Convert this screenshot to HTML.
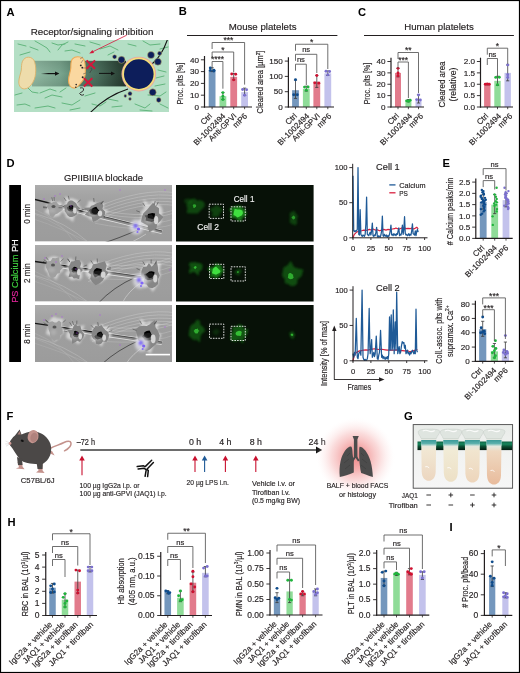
<!DOCTYPE html>
<html><head><meta charset="utf-8"><title>Figure</title>
<style>html,body{margin:0;padding:0;background:#fff;}body{width:520px;height:673px;overflow:hidden;}svg{display:block;will-change:transform;font-family:"Liberation Sans", sans-serif;}</style>
</head><body>
<svg width="520" height="673" viewBox="0 0 520 673" font-family='"Liberation Sans", sans-serif'>
<rect x="0" y="0" width="520" height="673" fill="#fff"/>
<text x="6.40" y="15.60" font-size="11.2" text-anchor="start" fill="#000" font-weight="bold">A</text>
<text x="30.70" y="34.80" font-size="9.7" text-anchor="start" fill="#231f20" textLength="122.8" lengthAdjust="spacingAndGlyphs" stroke="#231f20" stroke-width="0.16">Receptor/signaling inhibition</text>
<defs>
<linearGradient id="vess" x1="0" y1="0" x2="1" y2="0">
 <stop offset="0" stop-color="#93bca5"/>
 <stop offset="0.3" stop-color="#7aa58e"/>
 <stop offset="0.45" stop-color="#5e8a74"/>
 <stop offset="0.7" stop-color="#4a6e5c"/>
 <stop offset="1" stop-color="#24382d"/>
</linearGradient>
<linearGradient id="vessv" x1="0" y1="0" x2="0" y2="1">
 <stop offset="0" stop-color="#000" stop-opacity="0.10"/>
 <stop offset="0.5" stop-color="#000" stop-opacity="0"/>
 <stop offset="1" stop-color="#000" stop-opacity="0.10"/>
</linearGradient>
<radialGradient id="glow" cx="0.5" cy="0.5" r="0.5">
 <stop offset="0" stop-color="#ef7d7d" stop-opacity="0.9"/>
 <stop offset="0.3" stop-color="#f08c8c" stop-opacity="0.72"/>
 <stop offset="0.6" stop-color="#f5aeae" stop-opacity="0.45"/>
 <stop offset="0.85" stop-color="#fbdede" stop-opacity="0.2"/>
 <stop offset="1" stop-color="#ffffff" stop-opacity="0"/>
</radialGradient>
<filter id="b04" x="-20%" y="-20%" width="140%" height="140%"><feGaussianBlur stdDeviation="0.4"/></filter>
<filter id="b08" x="-30%" y="-30%" width="160%" height="160%"><feGaussianBlur stdDeviation="0.8"/></filter>
<filter id="b15" x="-50%" y="-50%" width="200%" height="200%"><feGaussianBlur stdDeviation="1.5"/></filter>
<filter id="b25" x="-80%" y="-80%" width="260%" height="260%"><feGaussianBlur stdDeviation="2.5"/></filter>
<filter id="b4" x="-100%" y="-100%" width="300%" height="300%"><feGaussianBlur stdDeviation="4"/></filter>
<clipPath id="cA"><rect x="14" y="40" width="155" height="72"/></clipPath>
</defs>
<g clip-path="url(#cA)">
<rect x="14" y="40" width="155" height="72" fill="#b4dfc5"/>
<path d="M35,41 L42,45 L47,48 L50,52" fill="none" stroke="#63b67e" stroke-width="1.0" stroke-linecap="round" stroke-linejoin="round"/>
<path d="M52,43 L58,45 L65,44" fill="none" stroke="#63b67e" stroke-width="1.0" stroke-linecap="round" stroke-linejoin="round"/>
<path d="M58,50 L62,45 L68,42" fill="none" stroke="#63b67e" stroke-width="1.0" stroke-linecap="round" stroke-linejoin="round"/>
<path d="M75,44 L85,46" fill="none" stroke="#63b67e" stroke-width="1.0" stroke-linecap="round" stroke-linejoin="round"/>
<path d="M20,55 L30,52" fill="none" stroke="#63b67e" stroke-width="1.0" stroke-linecap="round" stroke-linejoin="round"/>
<path d="M30,47 L38,50" fill="none" stroke="#63b67e" stroke-width="1.0" stroke-linecap="round" stroke-linejoin="round"/>
<path d="M65,51 L72,50 L80,53" fill="none" stroke="#63b67e" stroke-width="1.0" stroke-linecap="round" stroke-linejoin="round"/>
<path d="M90,42 L100,45" fill="none" stroke="#63b67e" stroke-width="1.0" stroke-linecap="round" stroke-linejoin="round"/>
<path d="M100,49 L110,46 L118,50" fill="none" stroke="#63b67e" stroke-width="1.0" stroke-linecap="round" stroke-linejoin="round"/>
<path d="M128,44 L136,46" fill="none" stroke="#63b67e" stroke-width="1.0" stroke-linecap="round" stroke-linejoin="round"/>
<path d="M143,41 L150,45 L160,44" fill="none" stroke="#63b67e" stroke-width="1.0" stroke-linecap="round" stroke-linejoin="round"/>
<path d="M160,49 L168,47" fill="none" stroke="#63b67e" stroke-width="1.0" stroke-linecap="round" stroke-linejoin="round"/>
<path d="M18,44 L26,46" fill="none" stroke="#63b67e" stroke-width="1.0" stroke-linecap="round" stroke-linejoin="round"/>
<path d="M108,55 L114,52" fill="none" stroke="#63b67e" stroke-width="1.0" stroke-linecap="round" stroke-linejoin="round"/>
<path d="M28,88 L32,92 L38,93" fill="none" stroke="#63b67e" stroke-width="1.0" stroke-linecap="round" stroke-linejoin="round"/>
<path d="M40,93 L50,89 L56,91" fill="none" stroke="#63b67e" stroke-width="1.0" stroke-linecap="round" stroke-linejoin="round"/>
<path d="M45,98 L52,95 L62,97" fill="none" stroke="#63b67e" stroke-width="1.0" stroke-linecap="round" stroke-linejoin="round"/>
<path d="M17,105 L25,104 L30,106" fill="none" stroke="#63b67e" stroke-width="1.0" stroke-linecap="round" stroke-linejoin="round"/>
<path d="M35,108 L48,106 L55,108" fill="none" stroke="#63b67e" stroke-width="1.0" stroke-linecap="round" stroke-linejoin="round"/>
<path d="M62,103 L72,105 L80,100" fill="none" stroke="#63b67e" stroke-width="1.0" stroke-linecap="round" stroke-linejoin="round"/>
<path d="M70,110 L80,108" fill="none" stroke="#63b67e" stroke-width="1.0" stroke-linecap="round" stroke-linejoin="round"/>
<path d="M85,96 L95,93" fill="none" stroke="#63b67e" stroke-width="1.0" stroke-linecap="round" stroke-linejoin="round"/>
<path d="M92,104 L100,106 L106,102" fill="none" stroke="#63b67e" stroke-width="1.0" stroke-linecap="round" stroke-linejoin="round"/>
<path d="M108,99 L118,101" fill="none" stroke="#63b67e" stroke-width="1.0" stroke-linecap="round" stroke-linejoin="round"/>
<path d="M112,107 L122,106" fill="none" stroke="#63b67e" stroke-width="1.0" stroke-linecap="round" stroke-linejoin="round"/>
<path d="M135,104 L145,108 L150,104" fill="none" stroke="#63b67e" stroke-width="1.0" stroke-linecap="round" stroke-linejoin="round"/>
<path d="M148,95 L160,96 L166,92" fill="none" stroke="#63b67e" stroke-width="1.0" stroke-linecap="round" stroke-linejoin="round"/>
<path d="M155,86 L165,84" fill="none" stroke="#63b67e" stroke-width="1.0" stroke-linecap="round" stroke-linejoin="round"/>
<path d="M160,104 L168,108" fill="none" stroke="#63b67e" stroke-width="1.0" stroke-linecap="round" stroke-linejoin="round"/>
<path d="M140,110 L152,111" fill="none" stroke="#63b67e" stroke-width="1.0" stroke-linecap="round" stroke-linejoin="round"/>
<path d="M15,95 L22,93" fill="none" stroke="#63b67e" stroke-width="1.0" stroke-linecap="round" stroke-linejoin="round"/>
<path d="M60,92 L66,88" fill="none" stroke="#63b67e" stroke-width="1.0" stroke-linecap="round" stroke-linejoin="round"/>
<path d="M158,70 L166,72" fill="none" stroke="#63b67e" stroke-width="1.0" stroke-linecap="round" stroke-linejoin="round"/>
<path d="M156,78 L164,76" fill="none" stroke="#63b67e" stroke-width="1.0" stroke-linecap="round" stroke-linejoin="round"/>
<rect x="32" y="60.8" width="94" height="25.6" fill="url(#vess)"/>
<rect x="32" y="60.8" width="94" height="25.6" fill="url(#vessv)"/>
<path d="M90,113 Q106,96 128,89" fill="none" stroke="#111" stroke-width="1.1"/>
<path d="M152,64 Q162,56 168,38" fill="none" stroke="#111" stroke-width="1.1"/>
<path d="M28.3,57.2 C31.5,57.2 34,59 34.8,62.5 C35.8,66 36,70 35.6,73.5 C35.2,78 33.5,82 31.2,84.8 C29.5,87 27,88.9 24.4,88.9 C21,88.9 18.8,86 18.8,82 C18.8,78 20.6,74 21.3,70 C21.6,67 21.3,64 22.5,61.2 C23.8,58.6 26,57.2 28.3,57.2 Z" fill="#eedcab" stroke="#ddb26a" stroke-width="0.9"/>
<path d="M77.7,56.8 C81.5,56.8 84.6,59 84.9,63 C85.4,67 85.6,71 85.2,74.5 C84.7,78.5 82.5,81.5 80,84 C78,86.5 76.5,88.2 74.2,88.1 C71,88 68.6,85 68.5,80.5 C68.4,76 70.5,72 70.8,68 C71,64 70.5,61 72.5,58.8 C74,57.3 75.8,56.8 77.7,56.8 Z" fill="#fad8a0" stroke="#eeaa55" stroke-width="1.1"/>
<circle cx="80.8" cy="65.4" r="0.9" fill="#222"/>
<circle cx="82.3" cy="67.7" r="0.9" fill="#222"/>
<circle cx="82.7" cy="77.3" r="1.0" fill="#222"/>
<circle cx="76.2" cy="84.6" r="0.8" fill="#222"/>
<circle cx="75.8" cy="87.3" r="0.8" fill="#222"/>
<path d="M81,63 l2,-3 M80,59 l3,-2 M83,74 l3,-1 M83,68 l3,0" stroke="#555" stroke-width="0.5"/>
<path d="M80,88 q4,-1 3.5,2 q-0.5,2 -3,2.5 q-2,1 0.5,2.5 q2,0.5 3,-0.5" fill="none" stroke="#333" stroke-width="1"/>
<path d="M91,68 q1.5,1.5 0,3 q-1.5,1 -1,2" fill="none" stroke="#444" stroke-width="0.8"/>
<defs><linearGradient id="arw" x1="0" y1="0" x2="1" y2="0"><stop offset="0" stop-color="#111" stop-opacity="0"/><stop offset="0.5" stop-color="#111"/></linearGradient></defs>
<rect x="40.8" y="73.0" width="15" height="1.2" fill="url(#arw)"/><path d="M55,71.4 L59.4,73.6 L55,75.8 Z" fill="#111"/>
<path d="M99,73.4 H112" stroke="#111" stroke-width="1"/><path d="M111,71.4 L115,73.4 L111,75.4 Z" fill="#111"/>
<path d="M86.6,60.39999999999999 L95.0,68.8 M95.0,60.39999999999999 L86.6,68.8" stroke="#d3173b" stroke-width="2.0"/>
<path d="M83.89999999999999,78.1 L92.3,86.5 M92.3,78.1 L83.89999999999999,86.5" stroke="#d3173b" stroke-width="2.0"/>
<circle cx="138.8" cy="74.1" r="17.3" fill="#e7a2a6"/>
<circle cx="138.8" cy="74.1" r="16.5" fill="#f4df78"/>
<circle cx="138.8" cy="74.1" r="14.8" fill="#0d1e5b"/>
<circle cx="114.6" cy="56.8" r="2.1" fill="#0d1e5b" stroke="#c9b66a" stroke-width="0.5"/>
<circle cx="121.5" cy="59.8" r="3.5" fill="#0d1e5b" stroke="#c9b66a" stroke-width="0.5"/>
<circle cx="151" cy="55" r="3.5" fill="#0d1e5b" stroke="#c9b66a" stroke-width="0.5"/>
<circle cx="159.6" cy="53.4" r="2.1" fill="#0d1e5b" stroke="#c9b66a" stroke-width="0.5"/>
<circle cx="157.9" cy="61.7" r="3.5" fill="#0d1e5b" stroke="#c9b66a" stroke-width="0.5"/>
<circle cx="152.7" cy="92.3" r="3.5" fill="#0d1e5b" stroke="#c9b66a" stroke-width="0.5"/>
<circle cx="158.7" cy="100" r="2.4" fill="#0d1e5b" stroke="#c9b66a" stroke-width="0.5"/>
<circle cx="130" cy="93.7" r="2.1" fill="#0d1e5b" stroke="#c9b66a" stroke-width="0.5"/>
<circle cx="125.3" cy="96" r="1.4" fill="#0d1e5b" stroke="#c9b66a" stroke-width="0.5"/>
<circle cx="130" cy="99" r="1.4" fill="#0d1e5b" stroke="#c9b66a" stroke-width="0.5"/>
</g>
<path d="M126.7,35.2 L91,52.6" stroke="#d3173b" stroke-width="0.8"/><path d="M89.2,53.6 L92.5,49.9 L94,53 Z" fill="#d3173b"/>
<text x="178.70" y="15.30" font-size="11.2" text-anchor="start" fill="#000" font-weight="bold">B</text>
<text x="228.70" y="30.40" font-size="9.6" text-anchor="start" fill="#231f20" textLength="67.8" lengthAdjust="spacingAndGlyphs" stroke="#231f20" stroke-width="0.16">Mouse platelets</text>
<line x1="187.00" y1="35.50" x2="337.40" y2="35.50" stroke="#231f20" stroke-width="1.0"/>
<rect x="208.70" y="69.83" width="6.8" height="37.17" fill="#7497bd"/>
<rect x="219.50" y="96.20" width="6.8" height="10.80" fill="#8fdc98"/>
<rect x="230.30" y="76.79" width="6.8" height="30.21" fill="#e27b8c"/>
<rect x="241.20" y="92.13" width="6.8" height="14.87" fill="#c3c2ec"/>
<line x1="212.10" y1="71.60" x2="212.10" y2="67.71" stroke="#3a3a3a" stroke-width="0.8"/>
<line x1="210.50" y1="67.71" x2="213.70" y2="67.71" stroke="#3a3a3a" stroke-width="0.8"/>
<line x1="210.50" y1="71.60" x2="213.70" y2="71.60" stroke="#3a3a3a" stroke-width="0.8"/>
<circle cx="210.30" cy="68.06" r="1.45" fill="#0f4c8c"/>
<circle cx="213.90" cy="70.18" r="1.45" fill="#0f4c8c"/>
<circle cx="210.30" cy="70.42" r="1.45" fill="#0f4c8c"/>
<circle cx="213.90" cy="71.01" r="1.45" fill="#0f4c8c"/>
<line x1="222.90" y1="99.57" x2="222.90" y2="92.60" stroke="#3a3a3a" stroke-width="0.8"/>
<line x1="221.30" y1="92.60" x2="224.50" y2="92.60" stroke="#3a3a3a" stroke-width="0.8"/>
<line x1="221.30" y1="99.57" x2="224.50" y2="99.57" stroke="#3a3a3a" stroke-width="0.8"/>
<circle cx="222.90" cy="92.60" r="1.45" fill="#1fb43c"/>
<circle cx="222.90" cy="96.14" r="1.45" fill="#1fb43c"/>
<circle cx="222.90" cy="99.57" r="1.45" fill="#1fb43c"/>
<line x1="233.70" y1="79.86" x2="233.70" y2="73.49" stroke="#3a3a3a" stroke-width="0.8"/>
<line x1="232.10" y1="73.49" x2="235.30" y2="73.49" stroke="#3a3a3a" stroke-width="0.8"/>
<line x1="232.10" y1="79.86" x2="235.30" y2="79.86" stroke="#3a3a3a" stroke-width="0.8"/>
<circle cx="231.70" cy="73.96" r="1.45" fill="#cf1030"/>
<circle cx="235.70" cy="74.20" r="1.45" fill="#cf1030"/>
<circle cx="233.70" cy="79.86" r="1.45" fill="#cf1030"/>
<line x1="244.60" y1="95.44" x2="244.60" y2="88.12" stroke="#3a3a3a" stroke-width="0.8"/>
<line x1="243.00" y1="88.12" x2="246.20" y2="88.12" stroke="#3a3a3a" stroke-width="0.8"/>
<line x1="243.00" y1="95.44" x2="246.20" y2="95.44" stroke="#3a3a3a" stroke-width="0.8"/>
<circle cx="242.60" cy="89.54" r="1.45" fill="#7b70cf"/>
<circle cx="246.60" cy="89.77" r="1.45" fill="#7b70cf"/>
<circle cx="244.60" cy="95.20" r="1.45" fill="#7b70cf"/>
<line x1="204.50" y1="56.00" x2="204.50" y2="107.60" stroke="#231f20" stroke-width="1.2"/>
<line x1="203.90" y1="107.00" x2="252.00" y2="107.00" stroke="#231f20" stroke-width="1.2"/>
<line x1="200.90" y1="107.00" x2="204.50" y2="107.00" stroke="#231f20" stroke-width="0.9"/>
<text x="198.90" y="109.70" font-size="8.1" text-anchor="end" fill="#231f20" stroke="#231f20" stroke-width="0.16">0</text>
<line x1="200.90" y1="95.20" x2="204.50" y2="95.20" stroke="#231f20" stroke-width="0.9"/>
<text x="198.90" y="97.90" font-size="8.1" text-anchor="end" fill="#231f20" stroke="#231f20" stroke-width="0.16">10</text>
<line x1="200.90" y1="83.40" x2="204.50" y2="83.40" stroke="#231f20" stroke-width="0.9"/>
<text x="198.90" y="86.10" font-size="8.1" text-anchor="end" fill="#231f20" stroke="#231f20" stroke-width="0.16">20</text>
<line x1="200.90" y1="71.60" x2="204.50" y2="71.60" stroke="#231f20" stroke-width="0.9"/>
<text x="198.90" y="74.30" font-size="8.1" text-anchor="end" fill="#231f20" stroke="#231f20" stroke-width="0.16">30</text>
<line x1="200.90" y1="59.80" x2="204.50" y2="59.80" stroke="#231f20" stroke-width="0.9"/>
<text x="198.90" y="62.50" font-size="8.1" text-anchor="end" fill="#231f20" stroke="#231f20" stroke-width="0.16">40</text>
<line x1="212.10" y1="107.00" x2="212.10" y2="109.20" stroke="#231f20" stroke-width="0.8"/>
<line x1="222.90" y1="107.00" x2="222.90" y2="109.20" stroke="#231f20" stroke-width="0.8"/>
<line x1="233.70" y1="107.00" x2="233.70" y2="109.20" stroke="#231f20" stroke-width="0.8"/>
<line x1="244.60" y1="107.00" x2="244.60" y2="109.20" stroke="#231f20" stroke-width="0.8"/>
<path d="M212.10,68.00 V61.50 H222.90 V88.70" fill="none" stroke="#555" stroke-width="0.85"/>
<text x="217.50" y="62.40" font-size="8.5" text-anchor="middle" fill="#231f20" stroke="#231f20" stroke-width="0.16">****</text>
<path d="M212.10,58.50 V52.00 H233.70 V72.50" fill="none" stroke="#555" stroke-width="0.85"/>
<text x="222.90" y="52.90" font-size="8.5" text-anchor="middle" fill="#231f20" stroke="#231f20" stroke-width="0.16">*</text>
<path d="M212.10,49.00 V42.50 H244.60 V84.60" fill="none" stroke="#555" stroke-width="0.85"/>
<text x="228.35" y="43.40" font-size="8.5" text-anchor="middle" fill="#231f20" stroke="#231f20" stroke-width="0.16">***</text>
<text transform="translate(212.60,116.50) rotate(-45)" x="0" y="0" font-size="8.0" text-anchor="end" fill="#231f20" stroke="#231f20" stroke-width="0.16">Ctrl</text>
<text transform="translate(226.00,116.50) rotate(-45)" x="0" y="0" font-size="8.0" text-anchor="end" fill="#231f20" stroke="#231f20" stroke-width="0.16">BI-1002494</text>
<text transform="translate(237.00,116.50) rotate(-45)" x="0" y="0" font-size="8.0" text-anchor="end" fill="#231f20" stroke="#231f20" stroke-width="0.16">Anti-GPVI</text>
<text transform="translate(247.70,116.50) rotate(-45)" x="0" y="0" font-size="8.0" text-anchor="end" fill="#231f20" stroke="#231f20" stroke-width="0.16">mP6</text>
<text transform="translate(183.20,83.60) rotate(-90)" x="0" y="0" font-size="9.4" text-anchor="middle" fill="#231f20" textLength="41.5" lengthAdjust="spacingAndGlyphs" stroke="#231f20" stroke-width="0.16">Proc. plts [%]</text>
<rect x="292.10" y="90.20" width="6.8" height="16.80" fill="#7497bd"/>
<rect x="302.90" y="88.79" width="6.8" height="18.21" fill="#8fdc98"/>
<rect x="313.40" y="81.60" width="6.8" height="25.40" fill="#e27b8c"/>
<rect x="324.40" y="73.34" width="6.8" height="33.66" fill="#c3c2ec"/>
<line x1="295.50" y1="98.43" x2="295.50" y2="80.07" stroke="#3a3a3a" stroke-width="0.8"/>
<line x1="293.90" y1="80.07" x2="297.10" y2="80.07" stroke="#3a3a3a" stroke-width="0.8"/>
<line x1="293.90" y1="98.43" x2="297.10" y2="98.43" stroke="#3a3a3a" stroke-width="0.8"/>
<circle cx="295.50" cy="79.77" r="1.45" fill="#0f4c8c"/>
<circle cx="293.70" cy="94.76" r="1.45" fill="#0f4c8c"/>
<circle cx="297.30" cy="94.76" r="1.45" fill="#0f4c8c"/>
<line x1="306.30" y1="91.09" x2="306.30" y2="86.19" stroke="#3a3a3a" stroke-width="0.8"/>
<line x1="304.70" y1="86.19" x2="307.90" y2="86.19" stroke="#3a3a3a" stroke-width="0.8"/>
<line x1="304.70" y1="91.09" x2="307.90" y2="91.09" stroke="#3a3a3a" stroke-width="0.8"/>
<circle cx="304.50" cy="87.11" r="1.45" fill="#1fb43c"/>
<circle cx="308.10" cy="86.96" r="1.45" fill="#1fb43c"/>
<circle cx="306.30" cy="90.17" r="1.45" fill="#1fb43c"/>
<line x1="316.80" y1="87.42" x2="316.80" y2="75.48" stroke="#3a3a3a" stroke-width="0.8"/>
<line x1="315.20" y1="75.48" x2="318.40" y2="75.48" stroke="#3a3a3a" stroke-width="0.8"/>
<line x1="315.20" y1="87.42" x2="318.40" y2="87.42" stroke="#3a3a3a" stroke-width="0.8"/>
<circle cx="316.80" cy="75.48" r="1.45" fill="#cf1030"/>
<circle cx="314.80" cy="82.83" r="1.45" fill="#cf1030"/>
<circle cx="318.80" cy="83.13" r="1.45" fill="#cf1030"/>
<line x1="327.80" y1="75.48" x2="327.80" y2="70.89" stroke="#3a3a3a" stroke-width="0.8"/>
<line x1="326.20" y1="70.89" x2="329.40" y2="70.89" stroke="#3a3a3a" stroke-width="0.8"/>
<line x1="326.20" y1="75.48" x2="329.40" y2="75.48" stroke="#3a3a3a" stroke-width="0.8"/>
<circle cx="326.00" cy="71.20" r="1.45" fill="#7b70cf"/>
<circle cx="329.60" cy="71.50" r="1.45" fill="#7b70cf"/>
<circle cx="327.80" cy="74.87" r="1.45" fill="#7b70cf"/>
<line x1="288.40" y1="57.30" x2="288.40" y2="107.60" stroke="#231f20" stroke-width="1.2"/>
<line x1="287.80" y1="107.00" x2="334.00" y2="107.00" stroke="#231f20" stroke-width="1.2"/>
<line x1="284.80" y1="107.00" x2="288.40" y2="107.00" stroke="#231f20" stroke-width="0.9"/>
<text x="282.80" y="109.70" font-size="8.1" text-anchor="end" fill="#231f20" stroke="#231f20" stroke-width="0.16">0</text>
<line x1="284.80" y1="91.70" x2="288.40" y2="91.70" stroke="#231f20" stroke-width="0.9"/>
<text x="282.80" y="94.40" font-size="8.1" text-anchor="end" fill="#231f20" stroke="#231f20" stroke-width="0.16">50</text>
<line x1="284.80" y1="76.40" x2="288.40" y2="76.40" stroke="#231f20" stroke-width="0.9"/>
<text x="282.80" y="79.10" font-size="8.1" text-anchor="end" fill="#231f20" stroke="#231f20" stroke-width="0.16">100</text>
<line x1="284.80" y1="61.10" x2="288.40" y2="61.10" stroke="#231f20" stroke-width="0.9"/>
<text x="282.80" y="63.80" font-size="8.1" text-anchor="end" fill="#231f20" stroke="#231f20" stroke-width="0.16">150</text>
<line x1="295.50" y1="107.00" x2="295.50" y2="109.20" stroke="#231f20" stroke-width="0.8"/>
<line x1="306.30" y1="107.00" x2="306.30" y2="109.20" stroke="#231f20" stroke-width="0.8"/>
<line x1="316.80" y1="107.00" x2="316.80" y2="109.20" stroke="#231f20" stroke-width="0.8"/>
<line x1="327.80" y1="107.00" x2="327.80" y2="109.20" stroke="#231f20" stroke-width="0.8"/>
<path d="M295.50,70.70 V64.20 H306.30 V85.00" fill="none" stroke="#555" stroke-width="0.85"/>
<text x="300.90" y="62.20" font-size="7.6" text-anchor="middle" fill="#231f20" stroke="#231f20" stroke-width="0.16">ns</text>
<path d="M295.50,60.80 V54.30 H316.80 V73.00" fill="none" stroke="#555" stroke-width="0.85"/>
<text x="306.15" y="52.30" font-size="7.6" text-anchor="middle" fill="#231f20" stroke="#231f20" stroke-width="0.16">ns</text>
<path d="M295.50,50.75 V44.25 H327.80 V69.00" fill="none" stroke="#555" stroke-width="0.85"/>
<text x="311.65" y="45.15" font-size="8.5" text-anchor="middle" fill="#231f20" stroke="#231f20" stroke-width="0.16">*</text>
<text transform="translate(297.40,116.50) rotate(-45)" x="0" y="0" font-size="8.0" text-anchor="end" fill="#231f20" stroke="#231f20" stroke-width="0.16">Ctrl</text>
<text transform="translate(309.90,116.50) rotate(-45)" x="0" y="0" font-size="8.0" text-anchor="end" fill="#231f20" stroke="#231f20" stroke-width="0.16">BI-1002494</text>
<text transform="translate(320.50,116.50) rotate(-45)" x="0" y="0" font-size="8.0" text-anchor="end" fill="#231f20" stroke="#231f20" stroke-width="0.16">Anti-GPVI</text>
<text transform="translate(332.00,116.50) rotate(-45)" x="0" y="0" font-size="8.0" text-anchor="end" fill="#231f20" stroke="#231f20" stroke-width="0.16">mP6</text>
<text transform="translate(263.40,82.00) rotate(-90) scale(0.7993,1)" x="0" y="0" font-size="9.4" text-anchor="middle" fill="#231f20" stroke="#231f20" stroke-width="0.16">Cleared area [µm<tspan font-size="6.11" dy="-3.57">2</tspan><tspan dy="3.57">]</tspan></text>
<text x="358.00" y="15.60" font-size="11.2" text-anchor="start" fill="#000" font-weight="bold">C</text>
<text x="404.20" y="30.40" font-size="9.6" text-anchor="start" fill="#231f20" textLength="69.5" lengthAdjust="spacingAndGlyphs" stroke="#231f20" stroke-width="0.16">Human platelets</text>
<line x1="364.00" y1="35.50" x2="513.90" y2="35.50" stroke="#231f20" stroke-width="1.0"/>
<rect x="395.00" y="72.88" width="6.0" height="34.12" fill="#e27b8c"/>
<rect x="405.40" y="100.63" width="6.0" height="6.37" fill="#8fdc98"/>
<rect x="415.50" y="98.92" width="6.0" height="8.08" fill="#c3c2ec"/>
<line x1="398.00" y1="76.86" x2="398.00" y2="68.33" stroke="#3a3a3a" stroke-width="0.8"/>
<line x1="396.40" y1="68.33" x2="399.60" y2="68.33" stroke="#3a3a3a" stroke-width="0.8"/>
<line x1="396.40" y1="76.86" x2="399.60" y2="76.86" stroke="#3a3a3a" stroke-width="0.8"/>
<circle cx="398.00" cy="68.33" r="1.45" fill="#cf1030"/>
<circle cx="398.00" cy="72.88" r="1.45" fill="#cf1030"/>
<circle cx="398.00" cy="75.72" r="1.45" fill="#cf1030"/>
<line x1="408.40" y1="101.88" x2="408.40" y2="99.49" stroke="#3a3a3a" stroke-width="0.8"/>
<line x1="406.80" y1="99.49" x2="410.00" y2="99.49" stroke="#3a3a3a" stroke-width="0.8"/>
<line x1="406.80" y1="101.88" x2="410.00" y2="101.88" stroke="#3a3a3a" stroke-width="0.8"/>
<circle cx="406.60" cy="100.86" r="1.45" fill="#1fb43c"/>
<circle cx="410.20" cy="100.29" r="1.45" fill="#1fb43c"/>
<circle cx="408.40" cy="101.31" r="1.45" fill="#1fb43c"/>
<line x1="418.50" y1="103.02" x2="418.50" y2="94.72" stroke="#3a3a3a" stroke-width="0.8"/>
<line x1="416.90" y1="94.72" x2="420.10" y2="94.72" stroke="#3a3a3a" stroke-width="0.8"/>
<line x1="416.90" y1="103.02" x2="420.10" y2="103.02" stroke="#3a3a3a" stroke-width="0.8"/>
<circle cx="418.50" cy="95.06" r="1.45" fill="#7b70cf"/>
<circle cx="416.70" cy="99.61" r="1.45" fill="#7b70cf"/>
<circle cx="420.30" cy="99.95" r="1.45" fill="#7b70cf"/>
<line x1="391.00" y1="57.70" x2="391.00" y2="107.60" stroke="#231f20" stroke-width="1.2"/>
<line x1="390.40" y1="107.00" x2="424.00" y2="107.00" stroke="#231f20" stroke-width="1.2"/>
<line x1="387.40" y1="107.00" x2="391.00" y2="107.00" stroke="#231f20" stroke-width="0.9"/>
<text x="385.40" y="109.70" font-size="8.1" text-anchor="end" fill="#231f20" stroke="#231f20" stroke-width="0.16">0</text>
<line x1="387.40" y1="95.62" x2="391.00" y2="95.62" stroke="#231f20" stroke-width="0.9"/>
<text x="385.40" y="98.33" font-size="8.1" text-anchor="end" fill="#231f20" stroke="#231f20" stroke-width="0.16">10</text>
<line x1="387.40" y1="84.25" x2="391.00" y2="84.25" stroke="#231f20" stroke-width="0.9"/>
<text x="385.40" y="86.95" font-size="8.1" text-anchor="end" fill="#231f20" stroke="#231f20" stroke-width="0.16">20</text>
<line x1="387.40" y1="72.88" x2="391.00" y2="72.88" stroke="#231f20" stroke-width="0.9"/>
<text x="385.40" y="75.58" font-size="8.1" text-anchor="end" fill="#231f20" stroke="#231f20" stroke-width="0.16">30</text>
<line x1="387.40" y1="61.50" x2="391.00" y2="61.50" stroke="#231f20" stroke-width="0.9"/>
<text x="385.40" y="64.20" font-size="8.1" text-anchor="end" fill="#231f20" stroke="#231f20" stroke-width="0.16">40</text>
<line x1="398.00" y1="107.00" x2="398.00" y2="109.20" stroke="#231f20" stroke-width="0.8"/>
<line x1="408.40" y1="107.00" x2="408.40" y2="109.20" stroke="#231f20" stroke-width="0.8"/>
<line x1="418.50" y1="107.00" x2="418.50" y2="109.20" stroke="#231f20" stroke-width="0.8"/>
<path d="M398.00,68.50 V62.00 H408.40 V98.00" fill="none" stroke="#555" stroke-width="0.85"/>
<text x="403.20" y="62.90" font-size="8.5" text-anchor="middle" fill="#231f20" stroke="#231f20" stroke-width="0.16">***</text>
<path d="M398.00,59.00 V52.50 H418.50 V93.00" fill="none" stroke="#555" stroke-width="0.85"/>
<text x="408.25" y="53.40" font-size="8.5" text-anchor="middle" fill="#231f20" stroke="#231f20" stroke-width="0.16">**</text>
<text transform="translate(399.50,116.50) rotate(-45)" x="0" y="0" font-size="8.0" text-anchor="end" fill="#231f20" stroke="#231f20" stroke-width="0.16">Ctrl</text>
<text transform="translate(412.60,116.50) rotate(-45)" x="0" y="0" font-size="8.0" text-anchor="end" fill="#231f20" stroke="#231f20" stroke-width="0.16">BI-1002494</text>
<text transform="translate(423.70,116.50) rotate(-45)" x="0" y="0" font-size="8.0" text-anchor="end" fill="#231f20" stroke="#231f20" stroke-width="0.16">mP6</text>
<text transform="translate(369.60,83.60) rotate(-90)" x="0" y="0" font-size="9.4" text-anchor="middle" fill="#231f20" textLength="41.5" lengthAdjust="spacingAndGlyphs" stroke="#231f20" stroke-width="0.16">Proc. plts [%]</text>
<rect x="484.10" y="84.25" width="6.4" height="22.75" fill="#e27b8c"/>
<rect x="494.30" y="80.84" width="6.4" height="26.16" fill="#8fdc98"/>
<rect x="504.50" y="72.88" width="6.4" height="34.12" fill="#c3c2ec"/>
<line x1="487.30" y1="84.93" x2="487.30" y2="83.57" stroke="#3a3a3a" stroke-width="0.8"/>
<line x1="485.70" y1="83.57" x2="488.90" y2="83.57" stroke="#3a3a3a" stroke-width="0.8"/>
<line x1="485.70" y1="84.93" x2="488.90" y2="84.93" stroke="#3a3a3a" stroke-width="0.8"/>
<circle cx="485.30" cy="84.25" r="1.45" fill="#cf1030"/>
<circle cx="487.30" cy="84.02" r="1.45" fill="#cf1030"/>
<circle cx="489.30" cy="84.25" r="1.45" fill="#cf1030"/>
<line x1="497.50" y1="85.39" x2="497.50" y2="76.29" stroke="#3a3a3a" stroke-width="0.8"/>
<line x1="495.90" y1="76.29" x2="499.10" y2="76.29" stroke="#3a3a3a" stroke-width="0.8"/>
<line x1="495.90" y1="85.39" x2="499.10" y2="85.39" stroke="#3a3a3a" stroke-width="0.8"/>
<circle cx="495.70" cy="77.42" r="1.45" fill="#1fb43c"/>
<circle cx="499.30" cy="77.20" r="1.45" fill="#1fb43c"/>
<circle cx="497.50" cy="84.70" r="1.45" fill="#1fb43c"/>
<line x1="507.70" y1="80.84" x2="507.70" y2="64.91" stroke="#3a3a3a" stroke-width="0.8"/>
<line x1="506.10" y1="64.91" x2="509.30" y2="64.91" stroke="#3a3a3a" stroke-width="0.8"/>
<line x1="506.10" y1="80.84" x2="509.30" y2="80.84" stroke="#3a3a3a" stroke-width="0.8"/>
<circle cx="507.70" cy="64.91" r="1.45" fill="#7b70cf"/>
<circle cx="507.70" cy="74.69" r="1.45" fill="#7b70cf"/>
<circle cx="507.70" cy="77.42" r="1.45" fill="#7b70cf"/>
<line x1="480.50" y1="57.70" x2="480.50" y2="107.60" stroke="#231f20" stroke-width="1.2"/>
<line x1="479.90" y1="107.00" x2="513.00" y2="107.00" stroke="#231f20" stroke-width="1.2"/>
<line x1="476.90" y1="107.00" x2="480.50" y2="107.00" stroke="#231f20" stroke-width="0.9"/>
<text x="474.90" y="109.70" font-size="8.1" text-anchor="end" fill="#231f20" stroke="#231f20" stroke-width="0.16">0.0</text>
<line x1="476.90" y1="95.62" x2="480.50" y2="95.62" stroke="#231f20" stroke-width="0.9"/>
<text x="474.90" y="98.33" font-size="8.1" text-anchor="end" fill="#231f20" stroke="#231f20" stroke-width="0.16">0.5</text>
<line x1="476.90" y1="84.25" x2="480.50" y2="84.25" stroke="#231f20" stroke-width="0.9"/>
<text x="474.90" y="86.95" font-size="8.1" text-anchor="end" fill="#231f20" stroke="#231f20" stroke-width="0.16">1.0</text>
<line x1="476.90" y1="72.88" x2="480.50" y2="72.88" stroke="#231f20" stroke-width="0.9"/>
<text x="474.90" y="75.58" font-size="8.1" text-anchor="end" fill="#231f20" stroke="#231f20" stroke-width="0.16">1.5</text>
<line x1="476.90" y1="61.50" x2="480.50" y2="61.50" stroke="#231f20" stroke-width="0.9"/>
<text x="474.90" y="64.20" font-size="8.1" text-anchor="end" fill="#231f20" stroke="#231f20" stroke-width="0.16">2.0</text>
<line x1="487.30" y1="107.00" x2="487.30" y2="109.20" stroke="#231f20" stroke-width="0.8"/>
<line x1="497.50" y1="107.00" x2="497.50" y2="109.20" stroke="#231f20" stroke-width="0.8"/>
<line x1="507.70" y1="107.00" x2="507.70" y2="109.20" stroke="#231f20" stroke-width="0.8"/>
<path d="M487.30,65.00 V58.50 H497.50 V77.00" fill="none" stroke="#555" stroke-width="0.85"/>
<text x="492.40" y="56.50" font-size="7.6" text-anchor="middle" fill="#231f20" stroke="#231f20" stroke-width="0.16">ns</text>
<path d="M487.30,54.70 V48.20 H507.70 V64.00" fill="none" stroke="#555" stroke-width="0.85"/>
<text x="497.50" y="49.10" font-size="8.5" text-anchor="middle" fill="#231f20" stroke="#231f20" stroke-width="0.16">*</text>
<text transform="translate(488.80,116.50) rotate(-45)" x="0" y="0" font-size="8.0" text-anchor="end" fill="#231f20" stroke="#231f20" stroke-width="0.16">Ctrl</text>
<text transform="translate(501.60,116.50) rotate(-45)" x="0" y="0" font-size="8.0" text-anchor="end" fill="#231f20" stroke="#231f20" stroke-width="0.16">BI-1002494</text>
<text transform="translate(512.90,116.50) rotate(-45)" x="0" y="0" font-size="8.0" text-anchor="end" fill="#231f20" stroke="#231f20" stroke-width="0.16">mP6</text>
<text transform="translate(444.60,84.50) rotate(-90)" x="0" y="0" font-size="9.4" text-anchor="middle" fill="#231f20" textLength="46" lengthAdjust="spacingAndGlyphs" stroke="#231f20" stroke-width="0.16">Cleared area</text>
<text transform="translate(455.70,84.50) rotate(-90)" x="0" y="0" font-size="9.4" text-anchor="middle" fill="#231f20" textLength="34" lengthAdjust="spacingAndGlyphs" stroke="#231f20" stroke-width="0.16">(relative)</text>
<text x="6.60" y="166.90" font-size="11.2" text-anchor="start" fill="#000" font-weight="bold">D</text>
<text x="64.00" y="180.50" font-size="9.4" text-anchor="start" fill="#231f20" textLength="79" lengthAdjust="spacingAndGlyphs" stroke="#231f20" stroke-width="0.16">GPIIBIIIA blockade</text>
<rect x="9.2" y="185" width="11.8" height="177" fill="#000"/>
<text transform="translate(18.3,302.8) rotate(-90)" x="0" y="0" font-size="9.4" fill="#fff" textLength="63.5" lengthAdjust="spacingAndGlyphs"><tspan fill="#e0259a" stroke="#e0259a" stroke-width="0.2">PS</tspan> <tspan fill="#3fcf3f" stroke="#3fcf3f" stroke-width="0.2">Calcium</tspan> <tspan fill="#ffffff" stroke="#ffffff" stroke-width="0.2">PH</tspan></text>
<text transform="translate(30.20,213.80) rotate(-90)" x="0" y="0" font-size="9.0" text-anchor="middle" fill="#231f20" textLength="19.7" lengthAdjust="spacingAndGlyphs" stroke="#231f20" stroke-width="0.16">0 min</text>
<text transform="translate(30.20,273.20) rotate(-90)" x="0" y="0" font-size="9.0" text-anchor="middle" fill="#231f20" textLength="19.7" lengthAdjust="spacingAndGlyphs" stroke="#231f20" stroke-width="0.16">2 min</text>
<text transform="translate(30.20,333.80) rotate(-90)" x="0" y="0" font-size="9.0" text-anchor="middle" fill="#231f20" textLength="19.7" lengthAdjust="spacingAndGlyphs" stroke="#231f20" stroke-width="0.16">8 min</text>
<defs><linearGradient id="phg" x1="0" y1="0" x2="0" y2="1">
<stop offset="0" stop-color="#bdbdbd" stop-opacity="0.5"/><stop offset="0.5" stop-color="#a4a4a4" stop-opacity="0"/><stop offset="1" stop-color="#999" stop-opacity="0.4"/></linearGradient>
<radialGradient id="gb" cx="0.5" cy="0.5" r="0.5"><stop offset="0" stop-color="#5dff5d"/><stop offset="0.35" stop-color="#2bd12b"/><stop offset="1" stop-color="#0a6a0a" stop-opacity="0"/></radialGradient>
<radialGradient id="gd" cx="0.5" cy="0.5" r="0.5"><stop offset="0" stop-color="#22a022"/><stop offset="0.5" stop-color="#137a13" stop-opacity="0.7"/><stop offset="1" stop-color="#0a4a0a" stop-opacity="0"/></radialGradient>
</defs>
<clipPath id="cp185"><rect x="35" y="185" width="137" height="56.5"/></clipPath>
<g clip-path="url(#cp185)">
<rect x="35" y="185" width="137" height="56.5" fill="#9d9d9d"/>
<rect x="35" y="185" width="137" height="56.5" fill="url(#phg)"/>
<path d="M95,209.25 Q152,221 182,207" fill="none" stroke="#dcdcdc" stroke-width="0.6" opacity="0.55"/>
<path d="M95,212.25 Q152,224 182,210" fill="none" stroke="#dcdcdc" stroke-width="0.6" opacity="0.5"/>
<path d="M95,218.25 Q152,230 182,216" fill="none" stroke="#dcdcdc" stroke-width="0.6" opacity="0.45"/>
<path d="M95,223.25 Q152,235 182,221" fill="none" stroke="#dcdcdc" stroke-width="0.6" opacity="0.4"/>
<path d="M140,229 Q117,239 102,243.5" fill="none" stroke="#2a2a2a" stroke-width="0.9" opacity="0.75"/>
<path d="M146,234 Q132,243 126,243.5" fill="none" stroke="#e6e6e6" stroke-width="0.8" opacity="0.6"/>
<path d="M35,213.5 Q65,221.5 90,243.5" fill="none" stroke="#dadada" stroke-width="0.6" opacity="0.5"/>
<line x1="55" y1="205.46062992125985" x2="162" y2="232" stroke="#ececec" stroke-width="4.2" opacity="0.85" filter="url(#b04)"/>
<line x1="55" y1="205.46062992125985" x2="162" y2="232" stroke="#8a8a8a" stroke-width="2.4"/>
<line x1="35" y1="199.5" x2="104.85000000000001" y2="216.825" stroke="#161616" stroke-width="1.4"/>
<line x1="104.85000000000001" y1="216.825" x2="162" y2="231" stroke="#303030" stroke-width="0.9" opacity="0.8"/>
<path d="M92,209.0 Q142,187.0 177,193.0" fill="none" stroke="#e0e0e0" stroke-width="0.55" opacity="0.55"/>
<path d="M92,212.2 Q142,190.2 177,196.2" fill="none" stroke="#e0e0e0" stroke-width="0.55" opacity="0.55"/>
<path d="M92,215.4 Q142,193.4 177,199.4" fill="none" stroke="#e0e0e0" stroke-width="0.55" opacity="0.55"/>
<path d="M92,218.6 Q142,196.6 177,202.6" fill="none" stroke="#e0e0e0" stroke-width="0.55" opacity="0.55"/>
<path d="M92,221.8 Q142,199.8 177,205.8" fill="none" stroke="#e0e0e0" stroke-width="0.55" opacity="0.55"/>
<path d="M35,209.5 Q60,219.5 75,243.5" fill="none" stroke="#d4d4d4" stroke-width="0.5" opacity="0.35"/>
<path d="M35,214.5 Q60,223.5 83,243.5" fill="none" stroke="#d4d4d4" stroke-width="0.5" opacity="0.35"/>
<path d="M35,219.5 Q60,227.5 91,243.5" fill="none" stroke="#d4d4d4" stroke-width="0.5" opacity="0.35"/>
<path d="M62.6,208.5 L62.7,211.1 L61.0,213.2 L59.4,215.8 L56.2,216.6 L52.7,217.3 L50.1,215.0 L47.2,213.8 L44.4,211.7 L47.5,208.5 L45.4,205.6 L48.6,204.3 L50.0,201.8 L52.6,199.4 L55.7,202.4 L59.1,201.6 L62.4,202.8 L61.5,206.3 Z" fill="#f4f4f4" opacity="0.6" filter="url(#b08)"/>
<path d="M63.8,209.0 L61.3,211.1 L59.2,212.3 L57.6,213.6 L55.6,214.3 L52.7,217.8 L49.8,215.8 L49.2,212.7 L49.2,210.6 L48.3,209.0 L46.9,206.7 L47.7,204.2 L50.8,203.6 L53.1,202.1 L56.1,201.5 L58.0,203.9 L59.3,205.6 L62.9,206.4 Z" fill="#a0a0a0" filter="url(#b04)"/>
<ellipse cx="52.2" cy="210.7" rx="3.4" ry="1.9" fill="#b4b4b4" opacity="0.7" filter="url(#b08)"/>
<ellipse cx="53.5" cy="206.5" rx="2" ry="1.6" fill="#555" filter="url(#b04)"/>
<line x1="47.0" y1="207.9" x2="43.0" y2="207.6" stroke="#3a3a3a" stroke-width="0.5"/>
<line x1="47.1" y1="207.3" x2="43.1" y2="206.7" stroke="#3a3a3a" stroke-width="0.5"/>
<line x1="54.2" y1="201.0" x2="54.1" y2="197.0" stroke="#3a3a3a" stroke-width="0.5"/>
<line x1="52.7" y1="201.2" x2="51.8" y2="197.3" stroke="#3a3a3a" stroke-width="0.5"/>
<path d="M81.3,208.0 L78.1,211.1 L77.2,214.1 L74.8,215.7 L73.1,222.1 L69.4,218.9 L66.2,217.8 L64.9,214.0 L62.4,211.7 L62.9,208.0 L63.9,204.9 L65.5,202.6 L65.1,196.0 L69.6,198.8 L72.5,198.2 L75.2,199.4 L78.5,200.5 L78.3,204.9 Z" fill="#f4f4f4" opacity="0.6" filter="url(#b08)"/>
<path d="M80.4,208.5 L76.8,211.1 L76.8,214.4 L74.5,215.9 L72.2,217.1 L69.7,217.1 L67.6,215.6 L66.3,213.3 L64.8,211.2 L64.6,208.5 L63.7,205.3 L66.9,204.3 L67.9,202.0 L69.9,200.6 L72.2,200.4 L74.2,201.8 L76.1,203.3 L77.4,205.7 Z" fill="#868686" filter="url(#b04)"/>
<ellipse cx="68.9" cy="211.0" rx="3.1" ry="2.5" fill="#b4b4b4" opacity="0.7" filter="url(#b08)"/>
<path d="M72.9,207.5 L73.2,208.8 L71.7,209.4 L70.1,209.8 L69.0,208.7 L69.1,207.5 L68.6,206.0 L70.2,205.5 L71.9,205.1 L73.4,206.0 Z" fill="#050505" filter="url(#b04)"/>
<path d="M72.8,209.0 L73.4,210.6 L71.5,211.6 L69.2,211.3 L67.9,210.2 L67.3,209.0 L67.0,207.3 L69.2,206.7 L71.2,207.0 L73.0,207.6 Z" fill="#2a2a2a" opacity="0.6" filter="url(#b04)"/>
<ellipse cx="74.8" cy="210.6" rx="1.8" ry="3.0" fill="#f0f0f0" opacity="0.75" filter="url(#b04)"/>
<line x1="77.5" y1="202.6" x2="80.6" y2="200.0" stroke="#3a3a3a" stroke-width="0.5"/>
<line x1="62.5" y1="207.8" x2="58.5" y2="207.7" stroke="#3a3a3a" stroke-width="0.5"/>
<line x1="66.2" y1="201.0" x2="63.9" y2="197.7" stroke="#3a3a3a" stroke-width="0.5"/>
<line x1="69.2" y1="199.7" x2="68.3" y2="195.8" stroke="#3a3a3a" stroke-width="0.5"/>
<path d="M108.9,211.0 L104.5,214.1 L101.3,215.8 L99.2,217.6 L96.9,220.9 L93.2,220.5 L89.7,219.3 L87.2,216.9 L82.4,215.1 L82.9,211.0 L85.3,207.8 L87.5,205.3 L88.7,201.1 L93.1,201.0 L96.5,203.3 L99.9,203.3 L104.8,203.6 L102.6,208.5 Z" fill="#f4f4f4" opacity="0.6" filter="url(#b08)"/>
<path d="M105.2,211.5 L104.9,214.7 L103.2,217.6 L99.5,218.4 L96.8,220.5 L92.9,222.1 L91.6,216.7 L88.6,216.3 L84.8,214.8 L88.1,211.5 L83.3,207.7 L89.8,207.6 L91.3,205.8 L93.7,204.9 L96.6,203.3 L101.6,201.4 L103.2,205.4 L102.5,209.1 Z" fill="#868686" filter="url(#b04)"/>
<ellipse cx="92.3" cy="213.8" rx="4.0" ry="2.4" fill="#b4b4b4" opacity="0.7" filter="url(#b08)"/>
<path d="M99.4,210.5 L98.2,212.5 L96.4,214.3 L93.7,214.0 L91.5,212.7 L91.4,210.5 L92.1,208.7 L93.8,207.4 L96.4,206.7 L97.7,208.9 Z" fill="#050505" filter="url(#b04)"/>
<path d="M97.5,212.5 L97.9,214.6 L95.1,215.1 L92.8,214.8 L90.7,214.1 L90.1,212.5 L88.9,210.0 L92.0,208.6 L95.6,208.7 L98.3,210.3 Z" fill="#2a2a2a" opacity="0.6" filter="url(#b04)"/>
<ellipse cx="100.0" cy="213.4" rx="2.2" ry="2.8" fill="#f0f0f0" opacity="0.75" filter="url(#b04)"/>
<line x1="100.7" y1="204.0" x2="103.2" y2="200.9" stroke="#3a3a3a" stroke-width="0.5"/>
<line x1="101.0" y1="204.3" x2="103.6" y2="201.3" stroke="#3a3a3a" stroke-width="0.5"/>
<line x1="94.1" y1="202.0" x2="93.7" y2="198.1" stroke="#3a3a3a" stroke-width="0.5"/>
<line x1="86.1" y1="209.9" x2="82.1" y2="209.4" stroke="#3a3a3a" stroke-width="0.5"/>
<path d="M161.6,216.5 L161.5,221.3 L159.4,225.3 L155.2,225.5 L153.6,234.0 L149.8,226.9 L145.3,229.6 L143.0,225.4 L137.5,223.0 L141.7,216.5 L140.6,211.5 L144.0,208.7 L143.6,199.6 L149.6,204.5 L153.4,200.6 L156.9,203.7 L161.0,205.9 L162.8,211.0 Z" fill="#f4f4f4" opacity="0.6" filter="url(#b08)"/>
<path d="M163.5,217.0 L160.1,221.3 L157.2,223.8 L156.4,228.9 L152.9,230.1 L149.2,232.3 L147.6,225.2 L144.9,224.1 L140.9,222.0 L141.9,217.0 L143.4,213.2 L145.8,210.9 L147.7,208.9 L149.8,206.3 L153.1,202.8 L155.9,206.1 L159.0,208.3 L158.9,213.3 Z" fill="#868686" filter="url(#b04)"/>
<ellipse cx="148.5" cy="220.7" rx="4.0" ry="3.6" fill="#b4b4b4" opacity="0.7" filter="url(#b08)"/>
<path d="M154.7,216.0 L154.9,218.3 L152.4,219.0 L150.2,218.6 L147.9,218.1 L147.6,216.0 L148.0,214.0 L150.2,213.4 L152.3,213.1 L155.1,213.6 Z" fill="#050505" filter="url(#b04)"/>
<path d="M154.3,218.1 L154.9,220.5 L151.9,222.1 L148.5,221.3 L145.4,220.4 L146.2,218.1 L144.7,215.4 L148.5,215.0 L151.6,214.6 L153.2,216.5 Z" fill="#2a2a2a" opacity="0.6" filter="url(#b04)"/>
<ellipse cx="156.1" cy="220.1" rx="2.2" ry="4.2" fill="#f0f0f0" opacity="0.75" filter="url(#b04)"/>
<line x1="140.0" y1="212.1" x2="136.3" y2="210.7" stroke="#3a3a3a" stroke-width="0.5"/>
<line x1="144.9" y1="206.3" x2="142.8" y2="202.9" stroke="#3a3a3a" stroke-width="0.5"/>
<line x1="156.5" y1="205.7" x2="158.2" y2="202.1" stroke="#3a3a3a" stroke-width="0.5"/>
<line x1="154.2" y1="204.9" x2="155.2" y2="201.0" stroke="#3a3a3a" stroke-width="0.5"/>
<ellipse cx="136.5" cy="227" rx="7" ry="7.5" fill="#e6e6f0" opacity="0.7" filter="url(#b15)"/>
<circle cx="135.5" cy="226" r="2.2" fill="#5a40ff" opacity="0.75" filter="url(#b08)"/>
<circle cx="138.5" cy="229" r="1.6" fill="#6a48ff" opacity="0.8"/>
<circle cx="137.5" cy="232" r="1.1" fill="#6a48ff" opacity="0.7"/>
<circle cx="55" cy="196" r="0.8" fill="#b050f0" opacity="0.6"/>
<circle cx="60" cy="194" r="0.8" fill="#b050f0" opacity="0.6"/>
<circle cx="71" cy="206" r="0.8" fill="#b050f0" opacity="0.6"/>
<circle cx="44" cy="199" r="0.8" fill="#b050f0" opacity="0.6"/>
<circle cx="120" cy="190" r="0.8" fill="#b050f0" opacity="0.6"/>
<circle cx="165" cy="190" r="0.8" fill="#b050f0" opacity="0.6"/>
</g>
<clipPath id="cp245"><rect x="35" y="245" width="137" height="56.5"/></clipPath>
<g clip-path="url(#cp245)">
<rect x="35" y="245" width="137" height="56.5" fill="#9d9d9d"/>
<rect x="35" y="245" width="137" height="56.5" fill="url(#phg)"/>
<path d="M95,264.25 Q148,269 178,255" fill="none" stroke="#dcdcdc" stroke-width="0.6" opacity="0.55"/>
<path d="M95,267.25 Q148,272 178,258" fill="none" stroke="#dcdcdc" stroke-width="0.6" opacity="0.5"/>
<path d="M95,273.25 Q148,278 178,264" fill="none" stroke="#dcdcdc" stroke-width="0.6" opacity="0.45"/>
<path d="M95,278.25 Q148,283 178,269" fill="none" stroke="#dcdcdc" stroke-width="0.6" opacity="0.4"/>
<path d="M136,277 Q113,287 98,303.5" fill="none" stroke="#2a2a2a" stroke-width="0.9" opacity="0.75"/>
<path d="M142,282 Q128,291 122,303.5" fill="none" stroke="#e6e6e6" stroke-width="0.8" opacity="0.6"/>
<path d="M35,275.5 Q65,283.5 90,303.5" fill="none" stroke="#dadada" stroke-width="0.6" opacity="0.5"/>
<line x1="55" y1="265.3455284552846" x2="158" y2="280" stroke="#ececec" stroke-width="4.2" opacity="0.85" filter="url(#b04)"/>
<line x1="55" y1="265.3455284552846" x2="158" y2="280" stroke="#8a8a8a" stroke-width="2.4"/>
<line x1="35" y1="261.5" x2="102.65" y2="271.125" stroke="#161616" stroke-width="1.4"/>
<line x1="102.65" y1="271.125" x2="158" y2="279" stroke="#303030" stroke-width="0.9" opacity="0.8"/>
<path d="M88,269.0 Q138,247.0 173,253.0" fill="none" stroke="#e0e0e0" stroke-width="0.55" opacity="0.55"/>
<path d="M88,272.2 Q138,250.2 173,256.2" fill="none" stroke="#e0e0e0" stroke-width="0.55" opacity="0.55"/>
<path d="M88,275.4 Q138,253.39999999999998 173,259.4" fill="none" stroke="#e0e0e0" stroke-width="0.55" opacity="0.55"/>
<path d="M88,278.6 Q138,256.6 173,262.6" fill="none" stroke="#e0e0e0" stroke-width="0.55" opacity="0.55"/>
<path d="M88,281.8 Q138,259.8 173,265.8" fill="none" stroke="#e0e0e0" stroke-width="0.55" opacity="0.55"/>
<path d="M35,271.5 Q60,281.5 75,303.5" fill="none" stroke="#d4d4d4" stroke-width="0.5" opacity="0.35"/>
<path d="M35,276.5 Q60,285.5 83,303.5" fill="none" stroke="#d4d4d4" stroke-width="0.5" opacity="0.35"/>
<path d="M35,281.5 Q60,289.5 91,303.5" fill="none" stroke="#d4d4d4" stroke-width="0.5" opacity="0.35"/>
<path d="M62.9,267.0 L63.3,270.8 L60.1,272.7 L58.4,275.4 L56.1,280.3 L52.6,275.7 L48.8,277.1 L47.8,272.8 L45.3,270.5 L45.0,267.0 L47.4,264.3 L46.7,260.2 L49.1,257.6 L52.3,256.4 L55.6,256.6 L58.8,257.7 L62.4,259.1 L60.9,264.2 Z" fill="#f4f4f4" opacity="0.6" filter="url(#b08)"/>
<path d="M63.5,267.5 L60.4,270.2 L59.8,273.0 L57.2,273.8 L55.4,276.8 L52.3,278.1 L49.6,276.2 L48.5,272.8 L47.4,270.2 L46.0,267.5 L46.0,264.2 L47.4,261.2 L50.7,261.0 L52.5,258.1 L55.4,258.2 L59.2,257.2 L59.7,262.1 L60.3,264.9 Z" fill="#a0a0a0" filter="url(#b04)"/>
<ellipse cx="51.8" cy="270.0" rx="3.4" ry="2.5" fill="#b4b4b4" opacity="0.7" filter="url(#b08)"/>
<ellipse cx="53" cy="265" rx="2" ry="1.6" fill="#555" filter="url(#b04)"/>
<line x1="47.1" y1="262.1" x2="43.8" y2="259.7" stroke="#3a3a3a" stroke-width="0.5"/>
<line x1="46.5" y1="263.1" x2="42.9" y2="261.2" stroke="#3a3a3a" stroke-width="0.5"/>
<line x1="60.5" y1="261.5" x2="63.5" y2="258.9" stroke="#3a3a3a" stroke-width="0.5"/>
<line x1="48.6" y1="260.4" x2="46.1" y2="257.3" stroke="#3a3a3a" stroke-width="0.5"/>
<path d="M84.4,269.5 L82.1,272.7 L82.4,277.3 L80.0,280.3 L76.3,278.9 L73.5,280.3 L70.2,279.7 L68.0,276.8 L64.8,274.1 L68.2,269.5 L66.3,265.6 L67.8,262.0 L69.5,257.7 L73.8,260.8 L76.1,261.4 L78.8,261.3 L82.1,262.1 L83.2,265.8 Z" fill="#f4f4f4" opacity="0.6" filter="url(#b08)"/>
<path d="M83.1,270.0 L80.5,272.6 L79.8,275.2 L79.2,279.3 L76.1,278.2 L73.8,278.6 L72.1,276.4 L68.4,277.2 L69.9,272.4 L69.0,270.0 L68.4,266.9 L69.8,264.4 L71.2,261.6 L73.8,261.2 L76.4,260.0 L79.5,259.9 L81.2,263.3 L80.0,267.6 Z" fill="#868686" filter="url(#b04)"/>
<ellipse cx="72.9" cy="272.6" rx="3.1" ry="2.7" fill="#b4b4b4" opacity="0.7" filter="url(#b08)"/>
<path d="M77.6,269.0 L77.0,270.2 L75.8,271.1 L74.3,271.0 L72.6,270.5 L72.6,269.0 L73.0,267.8 L74.1,266.7 L75.8,266.9 L77.0,267.8 Z" fill="#050505" filter="url(#b04)"/>
<path d="M78.3,270.5 L77.5,272.2 L75.0,272.2 L73.3,272.6 L71.7,271.8 L72.0,270.5 L71.2,268.9 L73.0,267.7 L75.4,268.1 L77.5,268.9 Z" fill="#2a2a2a" opacity="0.6" filter="url(#b04)"/>
<ellipse cx="78.8" cy="272.2" rx="1.8" ry="3.1" fill="#f0f0f0" opacity="0.75" filter="url(#b04)"/>
<line x1="69.9" y1="262.1" x2="67.6" y2="258.8" stroke="#3a3a3a" stroke-width="0.5"/>
<line x1="75.6" y1="260.5" x2="75.9" y2="256.5" stroke="#3a3a3a" stroke-width="0.5"/>
<line x1="69.9" y1="262.1" x2="67.6" y2="258.8" stroke="#3a3a3a" stroke-width="0.5"/>
<line x1="83.5" y1="266.4" x2="87.2" y2="265.0" stroke="#3a3a3a" stroke-width="0.5"/>
<path d="M111.0,272.0 L110.0,276.2 L106.2,278.6 L103.2,280.7 L100.1,283.4 L96.4,280.7 L92.0,281.9 L89.9,278.5 L86.7,275.9 L85.0,272.0 L87.8,268.5 L88.0,264.0 L91.9,262.0 L95.9,260.6 L99.5,263.6 L103.9,262.3 L109.7,262.7 L106.8,268.9 Z" fill="#f4f4f4" opacity="0.6" filter="url(#b08)"/>
<path d="M108.7,272.5 L106.5,275.4 L104.3,277.5 L102.9,280.5 L100.0,283.0 L95.6,285.2 L92.2,282.1 L90.1,278.8 L91.2,274.8 L88.3,272.5 L89.9,269.7 L91.9,267.6 L93.0,264.3 L96.4,263.8 L99.8,262.8 L104.8,261.3 L106.7,265.6 L105.5,269.9 Z" fill="#868686" filter="url(#b04)"/>
<ellipse cx="95.2" cy="275.1" rx="4.3" ry="2.7" fill="#b4b4b4" opacity="0.7" filter="url(#b08)"/>
<path d="M101.6,271.5 L100.6,273.1 L99.4,275.2 L96.9,274.3 L94.4,273.7 L93.6,271.5 L94.6,269.4 L96.7,268.0 L99.2,268.5 L101.8,269.2 Z" fill="#050505" filter="url(#b04)"/>
<path d="M102.2,273.5 L100.9,275.6 L98.0,276.0 L95.0,277.5 L93.5,275.2 L93.0,273.5 L93.2,271.7 L95.7,271.0 L98.3,270.5 L101.9,271.0 Z" fill="#2a2a2a" opacity="0.6" filter="url(#b04)"/>
<ellipse cx="103.2" cy="274.7" rx="2.4" ry="3.1" fill="#f0f0f0" opacity="0.75" filter="url(#b04)"/>
<line x1="93.0" y1="263.9" x2="90.9" y2="260.5" stroke="#3a3a3a" stroke-width="0.5"/>
<line x1="106.9" y1="268.8" x2="110.7" y2="267.4" stroke="#3a3a3a" stroke-width="0.5"/>
<line x1="107.2" y1="269.7" x2="111.1" y2="268.8" stroke="#3a3a3a" stroke-width="0.5"/>
<line x1="97.4" y1="262.5" x2="97.2" y2="258.5" stroke="#3a3a3a" stroke-width="0.5"/>
<path d="M160.8,275.0 L159.0,279.1 L158.4,283.7 L155.9,287.3 L152.8,292.1 L149.0,286.2 L144.7,288.1 L141.9,284.4 L139.9,280.1 L141.4,275.0 L139.7,269.9 L143.3,267.1 L145.4,263.6 L148.8,262.5 L151.9,264.8 L156.2,262.0 L161.1,263.4 L159.6,270.7 Z" fill="#f4f4f4" opacity="0.6" filter="url(#b08)"/>
<path d="M159.8,275.5 L158.1,279.3 L158.1,284.1 L155.3,286.8 L152.2,288.2 L148.9,287.6 L146.6,284.5 L143.0,284.0 L144.5,278.5 L141.1,275.5 L141.4,271.0 L143.1,267.1 L146.7,266.6 L148.9,263.0 L151.7,266.7 L156.7,261.0 L157.9,267.1 L158.2,271.7 Z" fill="#868686" filter="url(#b04)"/>
<ellipse cx="147.9" cy="279.0" rx="3.8" ry="3.4" fill="#b4b4b4" opacity="0.7" filter="url(#b08)"/>
<path d="M154.2,274.5 L153.2,276.2 L151.7,277.7 L149.1,278.2 L147.4,276.4 L145.5,274.5 L147.8,272.8 L149.4,271.6 L151.7,271.3 L154.5,272.0 Z" fill="#050505" filter="url(#b04)"/>
<path d="M154.7,276.6 L153.5,278.7 L150.8,279.8 L147.6,280.2 L145.1,278.7 L144.6,276.6 L144.2,274.0 L147.8,273.3 L151.2,272.5 L153.9,274.3 Z" fill="#2a2a2a" opacity="0.6" filter="url(#b04)"/>
<ellipse cx="155.2" cy="278.4" rx="2.1" ry="4.0" fill="#f0f0f0" opacity="0.75" filter="url(#b04)"/>
<line x1="140.1" y1="270.1" x2="136.5" y2="268.4" stroke="#3a3a3a" stroke-width="0.5"/>
<line x1="151.1" y1="263.5" x2="151.2" y2="259.5" stroke="#3a3a3a" stroke-width="0.5"/>
<line x1="144.8" y1="265.0" x2="142.8" y2="261.5" stroke="#3a3a3a" stroke-width="0.5"/>
<line x1="154.9" y1="264.4" x2="156.4" y2="260.7" stroke="#3a3a3a" stroke-width="0.5"/>
<ellipse cx="140" cy="281" rx="7" ry="7.5" fill="#e6e6f0" opacity="0.7" filter="url(#b15)"/>
<circle cx="139" cy="280" r="2.2" fill="#5a40ff" opacity="0.75" filter="url(#b08)"/>
<circle cx="142" cy="283" r="1.6" fill="#6a48ff" opacity="0.8"/>
<circle cx="141" cy="286" r="1.1" fill="#6a48ff" opacity="0.7"/>
<circle cx="56" cy="262" r="0.8" fill="#b050f0" opacity="0.6"/>
<circle cx="62" cy="256" r="0.8" fill="#b050f0" opacity="0.6"/>
<circle cx="76" cy="269" r="0.8" fill="#b050f0" opacity="0.6"/>
<circle cx="45" cy="258" r="0.8" fill="#b050f0" opacity="0.6"/>
<circle cx="170" cy="270" r="0.8" fill="#b050f0" opacity="0.6"/>
</g>
<clipPath id="cp305"><rect x="35" y="305" width="137" height="57"/></clipPath>
<g clip-path="url(#cp305)">
<rect x="35" y="305" width="137" height="57" fill="#9d9d9d"/>
<rect x="35" y="305" width="137" height="57" fill="url(#phg)"/>
<path d="M95,326.7 Q152,332 182,318" fill="none" stroke="#dcdcdc" stroke-width="0.6" opacity="0.55"/>
<path d="M95,329.7 Q152,335 182,321" fill="none" stroke="#dcdcdc" stroke-width="0.6" opacity="0.5"/>
<path d="M95,335.7 Q152,341 182,327" fill="none" stroke="#dcdcdc" stroke-width="0.6" opacity="0.45"/>
<path d="M95,340.7 Q152,346 182,332" fill="none" stroke="#dcdcdc" stroke-width="0.6" opacity="0.4"/>
<path d="M140,340 Q117,350 102,364" fill="none" stroke="#2a2a2a" stroke-width="0.9" opacity="0.75"/>
<path d="M146,345 Q132,354 126,364" fill="none" stroke="#e6e6e6" stroke-width="0.8" opacity="0.6"/>
<path d="M35,337.4 Q65,345.4 90,364" fill="none" stroke="#dadada" stroke-width="0.6" opacity="0.5"/>
<line x1="55" y1="327.3291338582677" x2="162" y2="343" stroke="#ececec" stroke-width="4.2" opacity="0.85" filter="url(#b04)"/>
<line x1="55" y1="327.3291338582677" x2="162" y2="343" stroke="#8a8a8a" stroke-width="2.4"/>
<line x1="35" y1="323.4" x2="104.85000000000001" y2="333.63" stroke="#161616" stroke-width="1.4"/>
<line x1="104.85000000000001" y1="333.63" x2="162" y2="342" stroke="#303030" stroke-width="0.9" opacity="0.8"/>
<path d="M92,329.0 Q142,307.0 177,313.0" fill="none" stroke="#e0e0e0" stroke-width="0.55" opacity="0.55"/>
<path d="M92,332.2 Q142,310.2 177,316.2" fill="none" stroke="#e0e0e0" stroke-width="0.55" opacity="0.55"/>
<path d="M92,335.4 Q142,313.4 177,319.4" fill="none" stroke="#e0e0e0" stroke-width="0.55" opacity="0.55"/>
<path d="M92,338.6 Q142,316.6 177,322.6" fill="none" stroke="#e0e0e0" stroke-width="0.55" opacity="0.55"/>
<path d="M92,341.8 Q142,319.8 177,325.8" fill="none" stroke="#e0e0e0" stroke-width="0.55" opacity="0.55"/>
<path d="M35,333.4 Q60,343.4 75,364" fill="none" stroke="#d4d4d4" stroke-width="0.5" opacity="0.35"/>
<path d="M35,338.4 Q60,347.4 83,364" fill="none" stroke="#d4d4d4" stroke-width="0.5" opacity="0.35"/>
<path d="M35,343.4 Q60,351.4 91,364" fill="none" stroke="#d4d4d4" stroke-width="0.5" opacity="0.35"/>
<path d="M63.6,329.0 L63.7,333.1 L60.8,335.1 L59.4,338.3 L56.9,339.8 L53.9,341.9 L52.4,336.5 L49.9,335.5 L45.9,333.9 L47.1,329.0 L48.8,325.6 L49.0,321.4 L51.1,318.5 L53.9,316.6 L56.9,318.1 L59.8,318.6 L63.8,319.3 L61.5,326.0 Z" fill="#f4f4f4" opacity="0.6" filter="url(#b08)"/>
<path d="M62.7,329.5 L62.8,333.4 L60.3,335.4 L59.5,339.7 L56.7,339.8 L54.1,341.2 L51.8,338.8 L50.2,336.0 L49.8,332.5 L48.5,329.5 L48.0,325.5 L49.4,322.0 L52.2,321.2 L54.7,322.5 L56.4,322.4 L59.0,320.6 L61.3,322.4 L60.8,326.7 Z" fill="#a0a0a0" filter="url(#b04)"/>
<ellipse cx="53.5" cy="332.3" rx="2.9" ry="2.9" fill="#b4b4b4" opacity="0.7" filter="url(#b08)"/>
<ellipse cx="54.5" cy="327" rx="2" ry="1.6" fill="#555" filter="url(#b04)"/>
<line x1="48.5" y1="322.5" x2="45.6" y2="319.8" stroke="#3a3a3a" stroke-width="0.5"/>
<line x1="47.1" y1="324.6" x2="43.5" y2="322.8" stroke="#3a3a3a" stroke-width="0.5"/>
<line x1="62.6" y1="322.7" x2="65.6" y2="320.1" stroke="#3a3a3a" stroke-width="0.5"/>
<line x1="48.3" y1="322.8" x2="45.3" y2="320.1" stroke="#3a3a3a" stroke-width="0.5"/>
<path d="M85.8,333.6 L84.2,337.1 L81.6,339.0 L80.5,342.5 L77.9,344.2 L75.2,341.8 L73.0,341.0 L70.2,340.0 L66.4,338.1 L66.3,333.6 L68.7,330.1 L69.7,326.6 L72.1,324.3 L75.0,323.8 L77.6,325.4 L79.9,326.1 L84.8,324.9 L82.6,330.8 Z" fill="#f4f4f4" opacity="0.6" filter="url(#b08)"/>
<path d="M84.4,334.1 L83.4,337.4 L81.6,339.8 L80.0,342.0 L77.3,340.8 L75.3,342.3 L72.0,343.8 L72.0,338.8 L70.1,337.0 L69.9,334.1 L67.1,329.7 L72.3,329.7 L73.2,327.0 L75.0,323.7 L77.5,326.1 L80.3,325.4 L81.2,328.9 L82.0,331.5 Z" fill="#868686" filter="url(#b04)"/>
<ellipse cx="74.3" cy="336.8" rx="3.1" ry="2.7" fill="#b4b4b4" opacity="0.7" filter="url(#b08)"/>
<path d="M78.6,333.1 L78.4,334.3 L77.1,335.0 L75.6,335.2 L73.9,334.6 L74.2,333.1 L73.9,331.6 L75.5,330.7 L77.1,331.4 L78.4,331.9 Z" fill="#050505" filter="url(#b04)"/>
<path d="M78.6,334.6 L78.8,336.2 L76.9,337.2 L74.5,337.0 L73.3,335.8 L72.9,334.6 L73.4,333.5 L74.5,332.1 L76.4,332.9 L78.0,333.4 Z" fill="#2a2a2a" opacity="0.6" filter="url(#b04)"/>
<ellipse cx="80.2" cy="336.3" rx="1.8" ry="3.1" fill="#f0f0f0" opacity="0.75" filter="url(#b04)"/>
<line x1="73.7" y1="325.0" x2="72.4" y2="321.2" stroke="#3a3a3a" stroke-width="0.5"/>
<line x1="71.8" y1="325.9" x2="69.7" y2="322.4" stroke="#3a3a3a" stroke-width="0.5"/>
<line x1="76.7" y1="324.6" x2="76.9" y2="320.6" stroke="#3a3a3a" stroke-width="0.5"/>
<line x1="67.6" y1="331.6" x2="63.7" y2="330.7" stroke="#3a3a3a" stroke-width="0.5"/>
<path d="M112.3,335.0 L108.1,338.4 L106.0,340.9 L103.6,342.2 L101.8,346.8 L98.7,343.9 L96.1,342.9 L93.7,341.2 L90.6,339.0 L92.2,335.0 L93.0,332.0 L91.9,327.1 L94.7,324.2 L98.7,326.4 L101.7,323.7 L104.0,326.9 L108.9,326.2 L109.6,330.9 Z" fill="#f4f4f4" opacity="0.6" filter="url(#b08)"/>
<path d="M109.1,335.5 L108.3,339.1 L106.4,341.9 L102.9,341.5 L101.2,343.8 L98.7,344.4 L96.0,343.8 L95.4,340.1 L92.9,338.6 L91.4,335.5 L91.8,331.9 L93.4,328.9 L95.4,325.9 L98.6,326.3 L101.5,325.1 L103.6,328.1 L105.4,330.1 L108.2,331.9 Z" fill="#868686" filter="url(#b04)"/>
<ellipse cx="97.8" cy="338.1" rx="3.4" ry="2.7" fill="#b4b4b4" opacity="0.7" filter="url(#b08)"/>
<path d="M102.9,334.5 L103.2,336.5 L101.2,337.6 L99.1,336.7 L97.3,336.2 L96.8,334.5 L97.5,332.9 L99.1,332.1 L101.2,331.5 L102.2,333.2 Z" fill="#050505" filter="url(#b04)"/>
<path d="M102.5,336.4 L102.1,338.1 L100.0,338.8 L97.5,339.5 L95.2,338.3 L94.3,336.4 L95.9,334.9 L97.9,334.2 L100.7,332.6 L102.2,334.8 Z" fill="#2a2a2a" opacity="0.6" filter="url(#b04)"/>
<ellipse cx="104.1" cy="337.7" rx="1.9" ry="3.1" fill="#f0f0f0" opacity="0.75" filter="url(#b04)"/>
<line x1="106.6" y1="328.9" x2="109.5" y2="326.1" stroke="#3a3a3a" stroke-width="0.5"/>
<line x1="108.5" y1="331.9" x2="112.2" y2="330.6" stroke="#3a3a3a" stroke-width="0.5"/>
<line x1="98.4" y1="326.1" x2="97.7" y2="322.2" stroke="#3a3a3a" stroke-width="0.5"/>
<line x1="93.9" y1="328.4" x2="91.2" y2="325.4" stroke="#3a3a3a" stroke-width="0.5"/>
<path d="M161.5,335.0 L158.9,340.1 L154.9,342.4 L153.2,346.5 L150.6,354.1 L146.0,349.7 L143.2,345.7 L138.2,345.6 L136.0,340.6 L137.4,335.0 L139.7,331.1 L141.1,327.6 L140.2,317.8 L146.5,324.1 L149.9,321.2 L152.3,325.5 L159.3,322.8 L156.7,331.0 Z" fill="#f4f4f4" opacity="0.6" filter="url(#b08)"/>
<path d="M159.8,335.5 L158.7,340.6 L155.9,344.2 L153.0,346.8 L149.9,349.6 L145.9,351.4 L142.6,347.8 L141.6,342.6 L138.2,340.2 L137.2,335.5 L135.4,329.4 L139.5,326.2 L143.8,325.8 L146.7,325.9 L149.5,324.4 L154.8,319.9 L155.5,327.2 L157.9,330.8 Z" fill="#868686" filter="url(#b04)"/>
<ellipse cx="145.2" cy="339.4" rx="4.3" ry="3.8" fill="#b4b4b4" opacity="0.7" filter="url(#b08)"/>
<path d="M151.2,334.5 L150.9,336.3 L149.2,337.7 L146.6,338.1 L144.4,336.7 L144.1,334.5 L144.4,332.3 L146.6,331.0 L149.5,330.5 L150.8,332.8 Z" fill="#050505" filter="url(#b04)"/>
<path d="M150.6,336.7 L152.3,339.5 L148.5,340.5 L144.9,340.6 L143.5,338.3 L142.0,336.7 L143.1,334.9 L145.3,333.6 L148.6,332.8 L152.0,334.1 Z" fill="#2a2a2a" opacity="0.6" filter="url(#b04)"/>
<ellipse cx="153.2" cy="338.8" rx="2.4" ry="4.4" fill="#f0f0f0" opacity="0.75" filter="url(#b04)"/>
<line x1="154.3" y1="324.2" x2="156.3" y2="320.8" stroke="#3a3a3a" stroke-width="0.5"/>
<line x1="141.7" y1="324.2" x2="139.7" y2="320.7" stroke="#3a3a3a" stroke-width="0.5"/>
<line x1="154.6" y1="324.4" x2="156.7" y2="321.0" stroke="#3a3a3a" stroke-width="0.5"/>
<line x1="136.4" y1="330.5" x2="132.6" y2="329.0" stroke="#3a3a3a" stroke-width="0.5"/>
<ellipse cx="141.7" cy="344" rx="7" ry="7.5" fill="#e6e6f0" opacity="0.7" filter="url(#b15)"/>
<circle cx="140.7" cy="343" r="2.2" fill="#5a40ff" opacity="0.75" filter="url(#b08)"/>
<circle cx="143.7" cy="346" r="1.6" fill="#6a48ff" opacity="0.8"/>
<circle cx="142.7" cy="349" r="1.1" fill="#6a48ff" opacity="0.7"/>
<circle cx="52" cy="316" r="0.8" fill="#b050f0" opacity="0.6"/>
<circle cx="56" cy="314" r="0.8" fill="#b050f0" opacity="0.6"/>
<circle cx="62" cy="317" r="0.8" fill="#b050f0" opacity="0.6"/>
<circle cx="77" cy="333" r="0.8" fill="#b050f0" opacity="0.6"/>
<circle cx="44" cy="320" r="0.8" fill="#b050f0" opacity="0.6"/>
<circle cx="100" cy="315" r="0.8" fill="#b050f0" opacity="0.6"/>
<circle cx="120" cy="345" r="0.8" fill="#b050f0" opacity="0.6"/>
<circle cx="165" cy="327" r="0.8" fill="#b050f0" opacity="0.6"/>
<line x1="145.7" y1="354.6" x2="170" y2="354.6" stroke="#fff" stroke-width="1.6"/>
</g>
<rect x="176" y="185" width="137.6" height="56.5" fill="#071107"/>
<path d="M204.8,206.0 L202.2,208.9 L200.0,211.0 L197.9,213.4 L194.4,213.6 L190.9,213.4 L186.5,213.0 L187.5,208.5 L186.6,206.0 L186.3,203.0 L189.4,201.6 L191.2,199.2 L194.4,198.2 L197.0,200.4 L201.0,200.2 L204.4,202.4 Z" fill="#1a901a" opacity="0.42" filter="url(#b08)"/>
<path d="M196.0,206.0 L196.0,206.8 L195.2,207.3 L194.4,207.9 L193.3,207.7 L193.2,206.6 L193.0,206.0 L192.7,205.1 L193.4,204.4 L194.4,204.2 L195.3,204.5 L196.2,205.1 Z" fill="#3fe03f" opacity="0.60" filter="url(#b04)"/>
<path d="M191.5,201.0 L191.2,201.7 L191.5,202.8 L190.3,203.8 L188.0,202.5 L186.4,203.0 L184.0,203.0 L185.3,201.6 L183.0,201.0 L184.7,200.3 L184.4,199.2 L186.3,198.9 L188.0,198.5 L189.8,198.8 L190.9,199.6 L193.1,199.9 Z" fill="#1a901a" opacity="0.30" filter="url(#b08)"/>
<path d="M222.0,211.5 L219.5,212.9 L219.8,215.3 L218.0,216.3 L216.0,216.8 L213.8,216.8 L211.3,216.2 L212.8,212.8 L211.3,211.5 L209.4,208.7 L212.3,207.8 L214.1,207.0 L216.0,205.1 L218.2,206.1 L220.2,207.3 L222.3,208.9 Z" fill="#1a901a" opacity="0.38" filter="url(#b08)"/>
<path d="M246.8,213.0 L245.2,216.0 L242.7,217.8 L241.2,221.2 L237.5,220.2 L235.3,217.9 L232.1,218.0 L230.0,215.9 L232.7,213.0 L229.0,209.7 L231.6,207.5 L234.5,206.4 L237.5,205.8 L240.7,205.9 L242.7,208.2 L245.2,210.1 Z" fill="#1a901a" opacity="0.81" filter="url(#b08)"/>
<path d="M243.0,213.0 L242.0,215.3 L239.7,216.5 L237.5,217.6 L235.5,216.1 L233.5,215.1 L233.6,213.0 L234.1,211.2 L234.7,208.7 L237.5,209.6 L239.7,209.6 L242.4,210.5 Z" fill="#3fe03f" opacity="1.00" filter="url(#b04)"/>
<path d="M297.6,217.5 L296.8,219.5 L297.1,223.0 L295.7,225.6 L293.5,224.6 L291.7,223.9 L290.0,222.7 L289.6,220.0 L290.1,217.5 L289.6,215.1 L290.1,212.4 L292.0,212.0 L293.5,210.5 L295.1,211.7 L295.9,213.9 L297.7,214.9 Z" fill="#1a901a" opacity="0.38" filter="url(#b08)"/>
<path d="M295.2,217.5 L295.0,218.3 L294.4,218.9 L293.5,219.5 L292.5,219.0 L292.2,218.2 L291.4,217.5 L292.2,216.8 L292.6,216.2 L293.5,215.6 L294.4,216.2 L294.9,216.8 Z" fill="#3fe03f" opacity="0.55" filter="url(#b04)"/>
<rect x="209.2" y="204.2" width="14.3" height="14.2" fill="none" stroke="#f2f2f2" stroke-width="0.9" stroke-dasharray="1.6,1.1"/>
<rect x="231" y="206.8" width="14.3" height="14.2" fill="none" stroke="#f2f2f2" stroke-width="0.9" stroke-dasharray="1.6,1.1"/>
<text x="233.70" y="202.00" font-size="8.4" text-anchor="start" fill="#f0f0f0" textLength="20.7" lengthAdjust="spacingAndGlyphs" stroke="#f0f0f0" stroke-width="0.16">Cell 1</text>
<text x="197.30" y="229.80" font-size="8.4" text-anchor="start" fill="#f0f0f0" textLength="21.6" lengthAdjust="spacingAndGlyphs" stroke="#f0f0f0" stroke-width="0.16">Cell 2</text>
<rect x="176" y="245" width="137.6" height="56.5" fill="#071107"/>
<path d="M202.5,267.6 L201.6,270.2 L199.1,271.5 L198.6,275.9 L195.2,272.4 L193.5,271.7 L189.0,273.8 L189.1,270.1 L190.6,267.6 L188.8,264.9 L189.9,262.3 L193.1,262.4 L195.2,262.0 L197.2,262.7 L199.7,263.1 L202.5,264.6 Z" fill="#1a901a" opacity="0.51" filter="url(#b08)"/>
<path d="M196.7,267.6 L196.2,268.1 L195.8,268.6 L195.2,269.2 L194.6,268.6 L193.9,268.3 L193.7,267.6 L194.0,267.0 L194.6,266.6 L195.2,266.0 L196.0,266.3 L196.6,266.9 Z" fill="#3fe03f" opacity="0.70" filter="url(#b04)"/>
<path d="M224.8,271.0 L221.2,273.0 L220.8,275.4 L218.5,276.5 L216.0,278.7 L213.6,276.4 L209.3,277.2 L211.6,272.7 L209.0,271.0 L207.8,267.8 L211.9,267.2 L214.1,266.8 L216.0,263.2 L219.0,264.4 L221.6,265.8 L222.0,268.7 Z" fill="#1a901a" opacity="0.81" filter="url(#b08)"/>
<path d="M220.6,271.0 L219.6,272.9 L217.8,273.7 L216.0,274.8 L214.0,274.1 L211.9,273.2 L212.5,271.0 L212.7,269.3 L213.9,267.8 L216.0,266.6 L217.8,268.2 L219.0,269.4 Z" fill="#3fe03f" opacity="1.00" filter="url(#b04)"/>
<path d="M241.2,272.0 L240.5,273.1 L239.6,273.6 L239.6,275.9 L238.0,275.2 L236.9,274.7 L235.9,274.1 L235.1,273.2 L234.1,272.0 L235.2,270.8 L236.5,270.5 L237.1,269.9 L238.0,268.9 L239.4,268.5 L240.4,269.6 L241.9,270.4 Z" fill="#1a901a" opacity="0.38" filter="url(#b08)"/>
<path d="M238.8,272.0 L238.9,272.5 L238.4,272.7 L238.0,273.0 L237.4,272.9 L237.0,272.5 L236.9,272.0 L237.2,271.6 L237.4,271.0 L238.0,271.2 L238.4,271.3 L239.0,271.5 Z" fill="#3fe03f" opacity="0.55" filter="url(#b04)"/>
<path d="M301.7,276.0 L297.5,279.4 L297.2,283.8 L294.2,286.0 L290.8,285.9 L288.0,284.1 L284.8,283.3 L284.7,279.1 L282.0,276.0 L282.6,271.9 L283.6,267.2 L287.3,265.6 L290.8,260.8 L293.9,266.9 L297.2,268.2 L303.4,269.6 Z" fill="#1a901a" opacity="0.47" filter="url(#b08)"/>
<path d="M293.1,276.0 L293.7,277.5 L292.6,278.8 L290.8,279.2 L289.0,278.8 L287.8,277.6 L288.2,276.0 L288.2,274.6 L289.1,273.3 L290.8,273.0 L292.0,274.1 L293.2,274.7 Z" fill="#3fe03f" opacity="0.65" filter="url(#b04)"/>
<rect x="209.5" y="264.3" width="14.3" height="14.2" fill="none" stroke="#f2f2f2" stroke-width="0.9" stroke-dasharray="1.6,1.1"/>
<rect x="231" y="266.8" width="14.3" height="14.2" fill="none" stroke="#f2f2f2" stroke-width="0.9" stroke-dasharray="1.6,1.1"/>
<rect x="176" y="305" width="137.6" height="57" fill="#071107"/>
<path d="M205.3,330.9 L201.6,333.9 L200.5,336.6 L199.9,342.7 L196.5,339.4 L193.8,340.2 L191.4,338.2 L188.6,335.6 L189.2,330.9 L190.0,327.1 L191.9,324.3 L194.4,323.5 L196.5,319.7 L199.6,320.2 L200.5,325.1 L203.3,326.9 Z" fill="#1a901a" opacity="0.47" filter="url(#b08)"/>
<path d="M199.6,330.9 L198.2,331.8 L198.0,333.3 L196.5,333.4 L194.9,333.3 L194.5,332.0 L193.6,330.9 L194.5,329.9 L195.2,328.9 L196.5,329.1 L198.0,328.5 L198.2,330.0 Z" fill="#3fe03f" opacity="0.65" filter="url(#b04)"/>
<path d="M219.8,332.0 L218.2,332.9 L217.8,333.8 L217.2,335.0 L216.0,335.4 L215.0,334.5 L214.2,333.8 L212.9,333.3 L212.4,332.0 L213.4,330.9 L213.8,329.8 L215.1,329.8 L216.0,328.9 L217.5,328.4 L217.7,330.3 L219.5,330.5 Z" fill="#1a901a" opacity="0.21" filter="url(#b08)"/>
<path d="M247.4,333.5 L245.7,336.3 L243.8,338.3 L243.2,343.7 L239.0,339.5 L235.7,341.6 L231.6,340.9 L230.2,337.1 L231.0,333.5 L232.9,331.0 L232.2,326.7 L236.2,326.7 L239.0,324.3 L242.4,325.3 L243.7,328.8 L248.4,329.6 Z" fill="#1a901a" opacity="0.55" filter="url(#b08)"/>
<path d="M241.4,333.5 L241.4,334.7 L240.6,335.9 L239.0,335.8 L237.5,335.8 L236.1,335.0 L235.5,333.5 L236.1,332.0 L237.6,331.3 L239.0,330.7 L240.6,331.0 L241.9,332.0 Z" fill="#3fe03f" opacity="0.75" filter="url(#b04)"/>
<path d="M294.9,334.9 L294.4,336.2 L293.6,337.0 L293.5,339.5 L292.1,338.5 L291.4,337.4 L290.2,337.6 L290.3,336.0 L289.9,334.9 L289.0,333.1 L290.4,332.5 L291.3,332.4 L292.1,330.4 L293.1,331.4 L293.5,333.0 L294.5,333.5 Z" fill="#1a901a" opacity="0.51" filter="url(#b08)"/>
<path d="M293.4,334.9 L293.0,335.4 L292.6,335.7 L292.1,336.1 L291.6,335.7 L291.1,335.4 L290.5,334.9 L290.9,334.3 L291.4,333.8 L292.1,333.5 L292.7,333.9 L293.1,334.4 Z" fill="#3fe03f" opacity="0.70" filter="url(#b04)"/>
<rect x="209.5" y="324.1" width="14.3" height="14.2" fill="none" stroke="#f2f2f2" stroke-width="0.9" stroke-dasharray="1.6,1.1"/>
<rect x="231" y="326.3" width="14.3" height="14.2" fill="none" stroke="#f2f2f2" stroke-width="0.9" stroke-dasharray="1.6,1.1"/>
<polyline points="353.00,237.80 353.72,235.69 354.43,234.29 355.15,233.59 356.58,232.18 358.01,231.48 359.44,231.13 361.59,230.78 363.74,230.08 365.89,230.43 367.32,230.08 369.47,229.38 370.90,230.08 373.05,229.03 375.20,230.08 377.34,229.73 379.49,230.78 381.64,230.08 383.79,229.38 385.94,230.08 388.08,229.38 390.23,229.73 392.38,229.03 394.53,228.67 395.96,227.97 397.39,228.67 399.54,229.03 401.69,227.97 403.12,228.32 404.55,227.62 405.98,228.67 408.13,228.32 410.28,228.67 411.71,227.97 413.14,229.03 414.58,228.67 416.01,227.62 416.72,227.27 417.44,227.97 418.16,229.03" fill="none" stroke="#d8203f" stroke-width="1.2" stroke-linejoin="round"/>
<polyline points="353.00,175.67 353.72,230.78 354.43,231.48 355.15,230.78 355.86,231.48 356.58,230.78 357.30,229.38 358.01,167.60 358.73,234.29 359.44,234.99 360.16,209.72 360.88,234.29 361.59,235.69 362.31,236.40 363.02,234.99 363.74,235.69 364.46,236.40 365.17,234.29 365.89,223.76 366.60,197.08 367.32,234.29 368.04,234.99 368.75,235.69 369.47,233.59 370.18,232.18 370.90,234.99 371.62,230.78 372.33,223.06 373.05,235.69 373.76,236.40 374.48,234.99 375.20,235.69 375.91,232.18 376.63,227.27 377.34,236.40 378.06,237.10 378.78,235.69 379.49,236.40 380.21,237.10 380.92,234.99 381.64,230.78 382.36,216.04 383.07,235.69 383.79,236.40 384.50,234.29 385.22,235.69 385.94,236.40 386.65,234.99 387.37,237.10 388.08,235.69 388.80,236.40 389.52,234.29 390.23,230.78 390.95,225.16 391.66,234.99 392.38,234.29 393.10,235.69 393.81,233.59 394.53,234.99 395.24,234.29 395.96,235.69 396.68,233.59 397.39,234.29 398.11,230.78 398.82,227.97 399.54,235.69 400.26,234.29 400.97,234.99 401.69,232.18 402.40,225.16 403.12,234.29 403.84,229.38 404.55,216.74 405.27,233.59 405.98,234.99 406.70,234.29 407.42,235.69 408.13,234.99 408.85,233.59 409.56,235.69 410.28,234.29 411.00,234.99 411.71,230.78 412.43,223.76 413.14,233.59 413.86,234.29 414.58,234.99 415.29,230.78 416.01,235.69 416.72,231.48 417.44,229.38 418.16,232.18" fill="none" stroke="#1f5a97" stroke-width="1.25" stroke-linejoin="round"/>
<line x1="352.70" y1="163.80" x2="352.70" y2="238.30" stroke="#231f20" stroke-width="1.0"/>
<line x1="352.20" y1="237.80" x2="427.50" y2="237.80" stroke="#231f20" stroke-width="1.0"/>
<line x1="349.30" y1="237.80" x2="352.70" y2="237.80" stroke="#231f20" stroke-width="0.9"/>
<text x="347.50" y="240.50" font-size="7.6" text-anchor="end" fill="#231f20" stroke="#231f20" stroke-width="0.16">0</text>
<line x1="349.30" y1="202.70" x2="352.70" y2="202.70" stroke="#231f20" stroke-width="0.9"/>
<text x="347.50" y="205.40" font-size="7.6" text-anchor="end" fill="#231f20" stroke="#231f20" stroke-width="0.16">50</text>
<line x1="349.30" y1="167.60" x2="352.70" y2="167.60" stroke="#231f20" stroke-width="0.9"/>
<text x="347.50" y="170.30" font-size="7.6" text-anchor="end" fill="#231f20" stroke="#231f20" stroke-width="0.16">100</text>
<line x1="353.00" y1="237.80" x2="353.00" y2="240.00" stroke="#231f20" stroke-width="0.9"/>
<text x="353.00" y="250.70" font-size="7.6" text-anchor="middle" fill="#231f20" stroke="#231f20" stroke-width="0.16">0</text>
<line x1="370.90" y1="237.80" x2="370.90" y2="240.00" stroke="#231f20" stroke-width="0.9"/>
<text x="370.90" y="250.70" font-size="7.6" text-anchor="middle" fill="#231f20" stroke="#231f20" stroke-width="0.16">25</text>
<line x1="388.80" y1="237.80" x2="388.80" y2="240.00" stroke="#231f20" stroke-width="0.9"/>
<text x="388.80" y="250.70" font-size="7.6" text-anchor="middle" fill="#231f20" stroke="#231f20" stroke-width="0.16">50</text>
<line x1="406.70" y1="237.80" x2="406.70" y2="240.00" stroke="#231f20" stroke-width="0.9"/>
<text x="406.70" y="250.70" font-size="7.6" text-anchor="middle" fill="#231f20" stroke="#231f20" stroke-width="0.16">75</text>
<line x1="424.60" y1="237.80" x2="424.60" y2="240.00" stroke="#231f20" stroke-width="0.9"/>
<text x="424.60" y="250.70" font-size="7.6" text-anchor="middle" fill="#231f20" stroke="#231f20" stroke-width="0.16">100</text>
<text x="376.10" y="170.30" font-size="9.0" text-anchor="start" fill="#231f20" textLength="23.6" lengthAdjust="spacingAndGlyphs" stroke="#231f20" stroke-width="0.16">Cell 1</text>
<line x1="389.30" y1="184.90" x2="395.50" y2="184.90" stroke="#1f5a97" stroke-width="1.3"/>
<text x="399.30" y="187.60" font-size="7.8" text-anchor="start" fill="#231f20" textLength="26.3" lengthAdjust="spacingAndGlyphs" stroke="#231f20" stroke-width="0.16">Calcium</text>
<line x1="389.30" y1="192.80" x2="395.50" y2="192.80" stroke="#d8203f" stroke-width="1.3"/>
<text x="399.30" y="195.50" font-size="7.8" text-anchor="start" fill="#231f20" textLength="8.6" lengthAdjust="spacingAndGlyphs" stroke="#231f20" stroke-width="0.16">PS</text>
<polyline points="353.00,360.80 353.72,357.97 354.43,355.14 355.15,353.73 356.58,352.32 358.01,351.61 359.44,350.90 361.59,350.55 363.74,350.19 365.89,349.84 368.04,350.19 370.18,349.49 372.33,349.13 374.48,348.78 376.63,349.13 378.78,349.49 380.92,349.13 383.07,349.49 385.22,349.84 387.37,350.19 389.52,349.84 391.66,350.19 393.81,350.19 395.96,349.84 398.11,350.19 400.26,350.55 402.40,350.55 404.55,350.90 406.70,350.55 408.85,351.26 411.00,351.61 413.14,350.90 415.29,350.19 417.44,349.49" fill="none" stroke="#d8203f" stroke-width="1.2" stroke-linejoin="round"/>
<polyline points="353.00,353.73 353.72,357.26 354.43,352.32 355.15,355.14 356.29,318.38 357.30,357.26 358.01,358.68 358.73,353.73 359.44,352.32 360.16,351.61 360.88,355.14 362.09,290.10 363.02,357.26 363.74,359.39 364.46,360.45 365.17,359.39 365.89,360.45 366.60,360.09 367.32,358.68 368.04,353.73 369.18,308.48 369.83,346.66 370.18,353.73 370.90,348.07 371.62,339.59 372.33,357.26 373.05,355.14 373.76,352.32 374.48,356.56 375.20,353.73 376.27,336.06 377.34,358.68 378.06,359.39 378.78,355.14 379.49,352.32 380.57,330.40 381.64,357.26 382.36,355.14 383.07,358.68 383.79,356.56 384.50,357.97 385.22,359.39 385.94,357.26 386.65,358.68 387.37,356.56 388.08,359.39 388.80,353.73 389.52,316.97 390.23,350.19 391.23,314.85 392.02,350.19 392.59,346.66 393.31,309.90 394.17,353.73 395.24,321.92 395.96,350.19 396.68,292.22 397.75,353.73 398.47,350.19 399.18,346.66 399.90,353.73 400.61,352.32 401.33,346.66 402.26,341.71 403.12,343.12 403.84,342.42 404.55,348.07 405.27,345.25 405.98,353.73 406.70,352.32 407.42,350.19 408.13,353.73 408.85,352.32 409.56,355.14 410.28,352.32 411.00,353.73 411.71,351.61 412.43,350.19 413.14,352.32 413.86,353.73 414.58,350.90 415.29,353.73 416.01,309.19 416.72,350.19 417.44,352.32" fill="none" stroke="#1f5a97" stroke-width="1.25" stroke-linejoin="round"/>
<line x1="353.00" y1="286.20" x2="353.00" y2="361.30" stroke="#231f20" stroke-width="1.0"/>
<line x1="352.50" y1="360.80" x2="427.50" y2="360.80" stroke="#231f20" stroke-width="1.0"/>
<line x1="349.60" y1="360.80" x2="353.00" y2="360.80" stroke="#231f20" stroke-width="0.9"/>
<text x="347.80" y="363.50" font-size="7.6" text-anchor="end" fill="#231f20" stroke="#231f20" stroke-width="0.16">0</text>
<line x1="349.60" y1="325.45" x2="353.00" y2="325.45" stroke="#231f20" stroke-width="0.9"/>
<text x="347.80" y="328.15" font-size="7.6" text-anchor="end" fill="#231f20" stroke="#231f20" stroke-width="0.16">50</text>
<line x1="349.60" y1="290.10" x2="353.00" y2="290.10" stroke="#231f20" stroke-width="0.9"/>
<text x="347.80" y="292.80" font-size="7.6" text-anchor="end" fill="#231f20" stroke="#231f20" stroke-width="0.16">100</text>
<line x1="353.00" y1="360.80" x2="353.00" y2="363.00" stroke="#231f20" stroke-width="0.9"/>
<text x="353.00" y="373.50" font-size="7.6" text-anchor="middle" fill="#231f20" stroke="#231f20" stroke-width="0.16">0</text>
<line x1="370.90" y1="360.80" x2="370.90" y2="363.00" stroke="#231f20" stroke-width="0.9"/>
<text x="370.90" y="373.50" font-size="7.6" text-anchor="middle" fill="#231f20" stroke="#231f20" stroke-width="0.16">25</text>
<line x1="388.80" y1="360.80" x2="388.80" y2="363.00" stroke="#231f20" stroke-width="0.9"/>
<text x="388.80" y="373.50" font-size="7.6" text-anchor="middle" fill="#231f20" stroke="#231f20" stroke-width="0.16">50</text>
<line x1="406.70" y1="360.80" x2="406.70" y2="363.00" stroke="#231f20" stroke-width="0.9"/>
<text x="406.70" y="373.50" font-size="7.6" text-anchor="middle" fill="#231f20" stroke="#231f20" stroke-width="0.16">75</text>
<line x1="424.60" y1="360.80" x2="424.60" y2="363.00" stroke="#231f20" stroke-width="0.9"/>
<text x="424.60" y="373.50" font-size="7.6" text-anchor="middle" fill="#231f20" stroke="#231f20" stroke-width="0.16">100</text>
<text x="376.10" y="290.60" font-size="9.0" text-anchor="start" fill="#231f20" textLength="23.6" lengthAdjust="spacingAndGlyphs" stroke="#231f20" stroke-width="0.16">Cell 2</text>
<path d="M334.3,379.5 V330" stroke="#231f20" stroke-width="0.9"/><path d="M332.1,331 L334.3,325.6 L336.5,331 Z" fill="#231f20"/>
<path d="M334,379.5 H380" stroke="#231f20" stroke-width="0.9"/><path d="M379,377.3 L384.5,379.5 L379,381.7 Z" fill="#231f20"/>
<text transform="translate(327.40,353.50) rotate(-90)" x="0" y="0" font-size="9.4" text-anchor="middle" fill="#231f20" textLength="65" lengthAdjust="spacingAndGlyphs" stroke="#231f20" stroke-width="0.16">Intensity [% of max]</text>
<text x="347.50" y="390.00" font-size="8.6" text-anchor="start" fill="#231f20" textLength="23.8" lengthAdjust="spacingAndGlyphs" stroke="#231f20" stroke-width="0.16">Frames</text>
<text x="442.40" y="167.00" font-size="11.2" text-anchor="start" fill="#000" font-weight="bold">E</text>
<rect x="479.80" y="201.92" width="6.8" height="36.48" fill="#7497bd"/>
<rect x="491.30" y="204.62" width="6.8" height="33.78" fill="#8fdc98"/>
<rect x="502.60" y="200.12" width="6.8" height="38.28" fill="#c3c2ec"/>
<line x1="483.20" y1="209.12" x2="483.20" y2="194.49" stroke="#3a3a3a" stroke-width="0.8"/>
<line x1="481.60" y1="194.49" x2="484.80" y2="194.49" stroke="#3a3a3a" stroke-width="0.8"/>
<line x1="481.60" y1="209.12" x2="484.80" y2="209.12" stroke="#3a3a3a" stroke-width="0.8"/>
<circle cx="481.84" cy="189.98" r="1.2" fill="#0f4c8c"/>
<circle cx="483.43" cy="191.11" r="1.2" fill="#0f4c8c"/>
<circle cx="482.52" cy="192.23" r="1.2" fill="#0f4c8c"/>
<circle cx="483.74" cy="193.36" r="1.2" fill="#0f4c8c"/>
<circle cx="483.85" cy="194.49" r="1.2" fill="#0f4c8c"/>
<circle cx="480.94" cy="195.61" r="1.2" fill="#0f4c8c"/>
<circle cx="480.67" cy="196.74" r="1.2" fill="#0f4c8c"/>
<circle cx="484.95" cy="197.86" r="1.2" fill="#0f4c8c"/>
<circle cx="481.95" cy="198.31" r="1.2" fill="#0f4c8c"/>
<circle cx="481.82" cy="198.99" r="1.2" fill="#0f4c8c"/>
<circle cx="485.78" cy="199.67" r="1.2" fill="#0f4c8c"/>
<circle cx="483.05" cy="200.12" r="1.2" fill="#0f4c8c"/>
<circle cx="484.95" cy="200.57" r="1.2" fill="#0f4c8c"/>
<circle cx="483.08" cy="201.24" r="1.2" fill="#0f4c8c"/>
<circle cx="483.92" cy="201.92" r="1.2" fill="#0f4c8c"/>
<circle cx="481.38" cy="202.37" r="1.2" fill="#0f4c8c"/>
<circle cx="483.90" cy="203.49" r="1.2" fill="#0f4c8c"/>
<circle cx="485.11" cy="204.62" r="1.2" fill="#0f4c8c"/>
<circle cx="483.32" cy="205.75" r="1.2" fill="#0f4c8c"/>
<circle cx="484.45" cy="206.87" r="1.2" fill="#0f4c8c"/>
<circle cx="484.09" cy="208.00" r="1.2" fill="#0f4c8c"/>
<circle cx="480.93" cy="209.12" r="1.2" fill="#0f4c8c"/>
<circle cx="484.54" cy="210.25" r="1.2" fill="#0f4c8c"/>
<circle cx="483.67" cy="211.38" r="1.2" fill="#0f4c8c"/>
<circle cx="482.17" cy="213.63" r="1.2" fill="#0f4c8c"/>
<circle cx="480.76" cy="214.75" r="1.2" fill="#0f4c8c"/>
<line x1="494.70" y1="213.63" x2="494.70" y2="194.49" stroke="#3a3a3a" stroke-width="0.8"/>
<line x1="493.10" y1="194.49" x2="496.30" y2="194.49" stroke="#3a3a3a" stroke-width="0.8"/>
<line x1="493.10" y1="213.63" x2="496.30" y2="213.63" stroke="#3a3a3a" stroke-width="0.8"/>
<circle cx="496.60" cy="187.73" r="1.2" fill="#1fb43c"/>
<circle cx="494.56" cy="194.49" r="1.2" fill="#1fb43c"/>
<circle cx="495.84" cy="196.74" r="1.2" fill="#1fb43c"/>
<circle cx="496.67" cy="198.99" r="1.2" fill="#1fb43c"/>
<circle cx="495.81" cy="201.24" r="1.2" fill="#1fb43c"/>
<circle cx="496.89" cy="202.37" r="1.2" fill="#1fb43c"/>
<circle cx="494.15" cy="203.49" r="1.2" fill="#1fb43c"/>
<circle cx="496.26" cy="204.62" r="1.2" fill="#1fb43c"/>
<circle cx="494.41" cy="205.75" r="1.2" fill="#1fb43c"/>
<circle cx="496.97" cy="209.12" r="1.2" fill="#1fb43c"/>
<circle cx="496.67" cy="211.38" r="1.2" fill="#1fb43c"/>
<circle cx="492.61" cy="216.33" r="1.2" fill="#1fb43c"/>
<circle cx="492.81" cy="224.89" r="1.2" fill="#1fb43c"/>
<line x1="506.00" y1="206.87" x2="506.00" y2="193.36" stroke="#3a3a3a" stroke-width="0.8"/>
<line x1="504.40" y1="193.36" x2="507.60" y2="193.36" stroke="#3a3a3a" stroke-width="0.8"/>
<line x1="504.40" y1="206.87" x2="507.60" y2="206.87" stroke="#3a3a3a" stroke-width="0.8"/>
<circle cx="504.53" cy="187.73" r="1.2" fill="#7b70cf"/>
<circle cx="508.42" cy="191.11" r="1.2" fill="#7b70cf"/>
<circle cx="505.67" cy="192.23" r="1.2" fill="#7b70cf"/>
<circle cx="506.66" cy="193.36" r="1.2" fill="#7b70cf"/>
<circle cx="504.97" cy="194.49" r="1.2" fill="#7b70cf"/>
<circle cx="506.04" cy="195.61" r="1.2" fill="#7b70cf"/>
<circle cx="505.41" cy="196.74" r="1.2" fill="#7b70cf"/>
<circle cx="505.22" cy="197.86" r="1.2" fill="#7b70cf"/>
<circle cx="506.44" cy="198.31" r="1.2" fill="#7b70cf"/>
<circle cx="506.44" cy="198.99" r="1.2" fill="#7b70cf"/>
<circle cx="508.10" cy="199.67" r="1.2" fill="#7b70cf"/>
<circle cx="506.95" cy="200.12" r="1.2" fill="#7b70cf"/>
<circle cx="508.23" cy="201.24" r="1.2" fill="#7b70cf"/>
<circle cx="507.85" cy="202.37" r="1.2" fill="#7b70cf"/>
<circle cx="508.55" cy="203.49" r="1.2" fill="#7b70cf"/>
<circle cx="506.89" cy="204.62" r="1.2" fill="#7b70cf"/>
<circle cx="504.25" cy="205.75" r="1.2" fill="#7b70cf"/>
<circle cx="507.88" cy="206.87" r="1.2" fill="#7b70cf"/>
<circle cx="508.42" cy="208.00" r="1.2" fill="#7b70cf"/>
<circle cx="508.10" cy="209.12" r="1.2" fill="#7b70cf"/>
<line x1="475.80" y1="178.60" x2="475.80" y2="239.00" stroke="#231f20" stroke-width="1.2"/>
<line x1="475.20" y1="238.40" x2="512.70" y2="238.40" stroke="#231f20" stroke-width="1.2"/>
<line x1="472.20" y1="238.40" x2="475.80" y2="238.40" stroke="#231f20" stroke-width="0.9"/>
<text x="470.20" y="241.10" font-size="8.1" text-anchor="end" fill="#231f20" stroke="#231f20" stroke-width="0.16">0.0</text>
<line x1="472.20" y1="227.14" x2="475.80" y2="227.14" stroke="#231f20" stroke-width="0.9"/>
<text x="470.20" y="229.84" font-size="8.1" text-anchor="end" fill="#231f20" stroke="#231f20" stroke-width="0.16">0.5</text>
<line x1="472.20" y1="215.88" x2="475.80" y2="215.88" stroke="#231f20" stroke-width="0.9"/>
<text x="470.20" y="218.58" font-size="8.1" text-anchor="end" fill="#231f20" stroke="#231f20" stroke-width="0.16">1.0</text>
<line x1="472.20" y1="204.62" x2="475.80" y2="204.62" stroke="#231f20" stroke-width="0.9"/>
<text x="470.20" y="207.32" font-size="8.1" text-anchor="end" fill="#231f20" stroke="#231f20" stroke-width="0.16">1.5</text>
<line x1="472.20" y1="193.36" x2="475.80" y2="193.36" stroke="#231f20" stroke-width="0.9"/>
<text x="470.20" y="196.06" font-size="8.1" text-anchor="end" fill="#231f20" stroke="#231f20" stroke-width="0.16">2.0</text>
<line x1="472.20" y1="182.10" x2="475.80" y2="182.10" stroke="#231f20" stroke-width="0.9"/>
<text x="470.20" y="184.80" font-size="8.1" text-anchor="end" fill="#231f20" stroke="#231f20" stroke-width="0.16">2.5</text>
<line x1="483.20" y1="238.40" x2="483.20" y2="240.60" stroke="#231f20" stroke-width="0.8"/>
<line x1="494.70" y1="238.40" x2="494.70" y2="240.60" stroke="#231f20" stroke-width="0.8"/>
<line x1="506.00" y1="238.40" x2="506.00" y2="240.60" stroke="#231f20" stroke-width="0.8"/>
<path d="M483.20,187.10 V180.60 H494.70 V189.50" fill="none" stroke="#555" stroke-width="0.85"/>
<text x="488.95" y="178.60" font-size="7.6" text-anchor="middle" fill="#231f20" stroke="#231f20" stroke-width="0.16">ns</text>
<path d="M483.20,175.10 V168.60 H506.00 V190.50" fill="none" stroke="#555" stroke-width="0.85"/>
<text x="494.60" y="166.60" font-size="7.6" text-anchor="middle" fill="#231f20" stroke="#231f20" stroke-width="0.16">ns</text>
<text transform="translate(484.90,248.40) rotate(-45)" x="0" y="0" font-size="8.0" text-anchor="end" fill="#231f20" stroke="#231f20" stroke-width="0.16">Ctrl</text>
<text transform="translate(497.50,248.40) rotate(-45)" x="0" y="0" font-size="8.0" text-anchor="end" fill="#231f20" stroke="#231f20" stroke-width="0.16">BI-1002494</text>
<text transform="translate(508.80,248.40) rotate(-45)" x="0" y="0" font-size="8.0" text-anchor="end" fill="#231f20" stroke="#231f20" stroke-width="0.16">mP6</text>
<text transform="translate(453.10,211.50) rotate(-90)" x="0" y="0" font-size="9.2" text-anchor="middle" fill="#231f20" textLength="67.6" lengthAdjust="spacingAndGlyphs" stroke="#231f20" stroke-width="0.16"># Calcium peaks/min</text>
<rect x="479.10" y="329.17" width="7.2" height="32.23" fill="#7497bd"/>
<rect x="490.80" y="351.37" width="7.2" height="10.03" fill="#8fdc98"/>
<rect x="501.80" y="351.37" width="7.2" height="10.03" fill="#c3c2ec"/>
<line x1="482.70" y1="336.33" x2="482.70" y2="321.29" stroke="#3a3a3a" stroke-width="0.8"/>
<line x1="481.10" y1="321.29" x2="484.30" y2="321.29" stroke="#3a3a3a" stroke-width="0.8"/>
<line x1="481.10" y1="336.33" x2="484.30" y2="336.33" stroke="#3a3a3a" stroke-width="0.8"/>
<circle cx="482.70" cy="316.99" r="1.45" fill="#0f4c8c"/>
<circle cx="481.20" cy="327.74" r="1.45" fill="#0f4c8c"/>
<circle cx="484.20" cy="331.32" r="1.45" fill="#0f4c8c"/>
<circle cx="480.70" cy="332.75" r="1.45" fill="#0f4c8c"/>
<circle cx="484.70" cy="333.82" r="1.45" fill="#0f4c8c"/>
<circle cx="482.70" cy="332.03" r="1.45" fill="#0f4c8c"/>
<line x1="494.40" y1="357.82" x2="494.40" y2="343.49" stroke="#3a3a3a" stroke-width="0.8"/>
<line x1="492.80" y1="343.49" x2="496.00" y2="343.49" stroke="#3a3a3a" stroke-width="0.8"/>
<line x1="492.80" y1="357.82" x2="496.00" y2="357.82" stroke="#3a3a3a" stroke-width="0.8"/>
<circle cx="495.40" cy="340.63" r="1.45" fill="#1fb43c"/>
<circle cx="492.90" cy="346.36" r="1.45" fill="#1fb43c"/>
<circle cx="495.90" cy="348.51" r="1.45" fill="#1fb43c"/>
<circle cx="494.40" cy="350.66" r="1.45" fill="#1fb43c"/>
<circle cx="492.40" cy="352.81" r="1.45" fill="#1fb43c"/>
<circle cx="495.40" cy="355.67" r="1.45" fill="#1fb43c"/>
<circle cx="494.40" cy="357.82" r="1.45" fill="#1fb43c"/>
<line x1="505.40" y1="357.82" x2="505.40" y2="342.06" stroke="#3a3a3a" stroke-width="0.8"/>
<line x1="503.80" y1="342.06" x2="507.00" y2="342.06" stroke="#3a3a3a" stroke-width="0.8"/>
<line x1="503.80" y1="357.82" x2="507.00" y2="357.82" stroke="#3a3a3a" stroke-width="0.8"/>
<circle cx="505.40" cy="335.62" r="1.45" fill="#7b70cf"/>
<circle cx="503.90" cy="349.94" r="1.45" fill="#7b70cf"/>
<circle cx="506.90" cy="351.37" r="1.45" fill="#7b70cf"/>
<circle cx="503.40" cy="352.45" r="1.45" fill="#7b70cf"/>
<circle cx="507.40" cy="353.16" r="1.45" fill="#7b70cf"/>
<circle cx="505.40" cy="354.24" r="1.45" fill="#7b70cf"/>
<line x1="475.40" y1="300.80" x2="475.40" y2="362.00" stroke="#231f20" stroke-width="1.2"/>
<line x1="474.80" y1="361.40" x2="513.50" y2="361.40" stroke="#231f20" stroke-width="1.2"/>
<line x1="471.80" y1="361.40" x2="475.40" y2="361.40" stroke="#231f20" stroke-width="0.9"/>
<text x="469.80" y="364.10" font-size="8.1" text-anchor="end" fill="#231f20" stroke="#231f20" stroke-width="0.16">0</text>
<line x1="471.80" y1="347.07" x2="475.40" y2="347.07" stroke="#231f20" stroke-width="0.9"/>
<text x="469.80" y="349.77" font-size="8.1" text-anchor="end" fill="#231f20" stroke="#231f20" stroke-width="0.16">20</text>
<line x1="471.80" y1="332.75" x2="475.40" y2="332.75" stroke="#231f20" stroke-width="0.9"/>
<text x="469.80" y="335.45" font-size="8.1" text-anchor="end" fill="#231f20" stroke="#231f20" stroke-width="0.16">40</text>
<line x1="471.80" y1="318.43" x2="475.40" y2="318.43" stroke="#231f20" stroke-width="0.9"/>
<text x="469.80" y="321.12" font-size="8.1" text-anchor="end" fill="#231f20" stroke="#231f20" stroke-width="0.16">60</text>
<line x1="471.80" y1="304.10" x2="475.40" y2="304.10" stroke="#231f20" stroke-width="0.9"/>
<text x="469.80" y="306.80" font-size="8.1" text-anchor="end" fill="#231f20" stroke="#231f20" stroke-width="0.16">80</text>
<line x1="482.70" y1="361.40" x2="482.70" y2="363.60" stroke="#231f20" stroke-width="0.8"/>
<line x1="494.40" y1="361.40" x2="494.40" y2="363.60" stroke="#231f20" stroke-width="0.8"/>
<line x1="505.40" y1="361.40" x2="505.40" y2="363.60" stroke="#231f20" stroke-width="0.8"/>
<path d="M482.70,316.20 V309.70 H494.40 V341.00" fill="none" stroke="#555" stroke-width="0.85"/>
<text x="488.55" y="310.60" font-size="8.5" text-anchor="middle" fill="#231f20" stroke="#231f20" stroke-width="0.16">***</text>
<path d="M482.70,304.40 V297.90 H505.40 V339.00" fill="none" stroke="#555" stroke-width="0.85"/>
<text x="494.05" y="298.80" font-size="8.5" text-anchor="middle" fill="#231f20" stroke="#231f20" stroke-width="0.16">***</text>
<text transform="translate(482.90,370.90) rotate(-45)" x="0" y="0" font-size="8.0" text-anchor="end" fill="#231f20" stroke="#231f20" stroke-width="0.16">Ctrl</text>
<text transform="translate(497.00,370.90) rotate(-45)" x="0" y="0" font-size="8.0" text-anchor="end" fill="#231f20" stroke="#231f20" stroke-width="0.16">BI-1002494</text>
<text transform="translate(508.50,370.90) rotate(-45)" x="0" y="0" font-size="8.0" text-anchor="end" fill="#231f20" stroke="#231f20" stroke-width="0.16">mP6</text>
<text transform="translate(441.90,330.70) rotate(-90)" x="0" y="0" font-size="9.3" text-anchor="middle" fill="#231f20" textLength="65.9" lengthAdjust="spacingAndGlyphs" stroke="#231f20" stroke-width="0.16">Coll.-assoc. plts with</text>
<text transform="translate(452.60,357.10) rotate(-90) scale(0.7981,1)" x="0" y="0" font-size="9.3" text-anchor="start" fill="#231f20" stroke="#231f20" stroke-width="0.16">supramax. Ca<tspan font-size="6.05" dy="-3.53">2+</tspan></text>
<text x="6.60" y="420.00" font-size="11.2" text-anchor="start" fill="#000" font-weight="bold">F</text>
<g>
<path d="M50,448.5 C55,446 60,444.5 64,442.5 C67,441 70.5,440.5 71,443 C71.5,446 68,449 64.5,450.8" fill="none" stroke="#c4928c" stroke-width="1.5" stroke-linecap="round"/>
<path d="M17.5,462 L19,467.2 L15.8,468.6 L24.6,469.2 L22.6,466.8 L22,461 Z" fill="#c4928c"/>
<path d="M37,462 L38.5,470.6 L36,472.6 L44.6,473 L42.6,470.4 L42.4,462 Z" fill="#c4928c"/>
<path d="M47,452 L54.6,455.6 L52,451 Z" fill="#c4928c"/>
<path d="M9.5,443 C10.5,440 12.5,437.5 15,435.5 L19.6,429.6 L21.5,434.6 C25,432.5 30,431 35,431.5 C42,432.5 48,437 50.5,444 C52,450 51,456 47,460.5 C45,462.5 43.5,463.5 42.5,464 L38,464.3 L30,463.5 C25,463 21,461 18.5,457.5 C16,454 13,449 11,446.5 C10,445.5 9.3,444.2 9.5,443 Z" fill="#4b4847"/>
<path d="M17,457 L18,465 L22.5,465 L22,459 Z" fill="#4b4847"/>
<path d="M36.5,461 L37.5,469 L42.5,469 L43,460 Z" fill="#4b4847"/>
<path d="M17.5,434.4 L19.7,431 L20.8,434.6 Z" fill="#a97f7b"/>
<ellipse cx="33.1" cy="436.6" rx="5.4" ry="6.6" transform="rotate(15 33.1 436.6)" fill="#c4948e"/>
<ellipse cx="33.9" cy="437.4" rx="3.4" ry="4.8" transform="rotate(15 33.9 437.4)" fill="#b0827d"/>
<ellipse cx="22.3" cy="440.8" rx="1.6" ry="1.1" transform="rotate(20 22.3 440.8)" fill="#111"/>
<circle cx="10" cy="443.4" r="1.4" fill="#d49d98"/>
<path d="M9,442.6 l-3.5,-1.6 M9,443.6 l-3.8,0.4 M9.2,444.4 l-3.2,1.8" stroke="#bbb" stroke-width="0.35"/>
</g>
<text x="20.80" y="483.40" font-size="8.0" text-anchor="start" fill="#231f20" textLength="33.8" lengthAdjust="spacingAndGlyphs" stroke="#231f20" stroke-width="0.16">C57BL/6J</text>
<line x1="80.3" y1="450.0" x2="318" y2="450.0" stroke="#3c3c3c" stroke-width="1.7"/>
<path d="M316,446.6 L322.2,450 L316,453.4 Z" fill="#111"/>
<text x="76.70" y="445.00" font-size="8.8" text-anchor="start" fill="#231f20" textLength="18.3" lengthAdjust="spacingAndGlyphs" stroke="#231f20" stroke-width="0.16">–72 h</text>
<text x="195.00" y="445.00" font-size="8.8" text-anchor="middle" fill="#231f20" stroke="#231f20" stroke-width="0.16">0 h</text>
<text x="225.40" y="445.00" font-size="8.8" text-anchor="middle" fill="#231f20" stroke="#231f20" stroke-width="0.16">4 h</text>
<text x="255.80" y="445.00" font-size="8.8" text-anchor="middle" fill="#231f20" stroke="#231f20" stroke-width="0.16">8 h</text>
<text x="317.10" y="445.00" font-size="8.8" text-anchor="middle" fill="#231f20" stroke="#231f20" stroke-width="0.16">24 h</text>
<line x1="82" y1="475.3" x2="82" y2="458.6" stroke="#c8102e" stroke-width="1.1"/><path d="M79.2,460.6 L82,455.6 L84.8,460.6 Z" fill="#c8102e"/>
<line x1="195" y1="472" x2="195" y2="458.4" stroke="#c8102e" stroke-width="1.1"/><path d="M192.2,460.4 L195,455.4 L197.8,460.4 Z" fill="#c8102e"/>
<line x1="225.4" y1="472" x2="225.4" y2="458.4" stroke="#c8102e" stroke-width="1.1"/><path d="M222.6,460.4 L225.4,455.4 L228.20000000000002,460.4 Z" fill="#c8102e"/>
<line x1="255.8" y1="472" x2="255.8" y2="458.4" stroke="#c8102e" stroke-width="1.1"/><path d="M253.0,460.4 L255.8,455.4 L258.6,460.4 Z" fill="#c8102e"/>
<line x1="204.6" y1="472" x2="204.6" y2="458.4" stroke="#1f5a97" stroke-width="1.1"/><path d="M201.79999999999998,460.4 L204.6,455.4 L207.4,460.4 Z" fill="#1f5a97"/>
<g stroke="#111" stroke-width="1.5" fill="none" stroke-linejoin="round" stroke-linecap="round">
<polyline points="137.2,466.6 143.6,465.8 145.2,466.6 151.7,460.3"/>
<polyline points="138.1,469 144.1,468.2 146.2,469.8 145.1,476.3"/>
<polyline points="153.4,462.5 146.9,469.2 148.3,470.6 147.6,476.6"/>
</g>
<text x="79.60" y="488.40" font-size="7.9" text-anchor="start" fill="#231f20" textLength="60" lengthAdjust="spacingAndGlyphs" stroke="#231f20" stroke-width="0.16">100 µg IgG2a i.p. or</text>
<text x="79.60" y="496.30" font-size="7.9" text-anchor="start" fill="#231f20" textLength="87" lengthAdjust="spacingAndGlyphs" stroke="#231f20" stroke-width="0.16">100 µg anti-GPVI (JAQ1) i.p.</text>
<text x="186.60" y="484.80" font-size="7.9" text-anchor="start" fill="#231f20" textLength="42.2" lengthAdjust="spacingAndGlyphs" stroke="#231f20" stroke-width="0.16">20 µg LPS i.n.</text>
<text x="252.00" y="485.80" font-size="7.9" text-anchor="start" fill="#231f20" textLength="43" lengthAdjust="spacingAndGlyphs" stroke="#231f20" stroke-width="0.16">Vehicle i.v. or</text>
<text x="252.00" y="494.50" font-size="7.9" text-anchor="start" fill="#231f20" textLength="38" lengthAdjust="spacingAndGlyphs" stroke="#231f20" stroke-width="0.16">Tirofiban i.v.</text>
<text x="252.00" y="502.50" font-size="7.9" text-anchor="start" fill="#231f20" textLength="48" lengthAdjust="spacingAndGlyphs" stroke="#231f20" stroke-width="0.16">(0.5 mg/kg BW)</text>
<circle cx="355.5" cy="457" r="40" fill="url(#glow)"/>
<path d="M352.6,436 L358.8,436 L357.4,439.5 L357.4,458 L353.9,458 L353.9,439.5 Z" fill="#4c4c4c"/>
<path d="M355.6,456 L352.5,461 M355.6,456 L358.8,461" stroke="#4c4c4c" stroke-width="2" fill="none"/>
<path d="M350.8,446.5 C347,446.5 342.5,453 340.6,461 C339.4,466 339.2,472 339.8,477 C344,476 349,474.5 353.8,472.5 L353.8,460 C353,458 352.6,455 352.4,451 C352.2,448 351.8,446.5 350.8,446.5 Z" fill="#4c4c4c"/>
<path d="M359.6,446.8 C363.5,446.8 368,453 370.5,461 C372,466 372.6,472 372.9,477 C368,475.5 364,474 361.2,473 C360.5,471 360.2,468 359.8,465 C359.3,461 359.2,457 359.2,452 C359.2,449 359.3,447.5 359.6,446.8 Z" fill="#4c4c4c"/>
<path d="M344,463 l5,-4 M345,469 l5,-4 M347,456 l3,-3 M367,463 l-5,-4 M366,469 l-5,-4 M364,456 l-3,-3" stroke="#3c3c3c" stroke-width="0.6"/>
<text x="357.50" y="488.40" font-size="7.8" text-anchor="middle" fill="#231f20" textLength="61.6" lengthAdjust="spacingAndGlyphs" stroke="#231f20" stroke-width="0.16">BALF + blood FACS</text>
<text x="357.50" y="497.20" font-size="7.8" text-anchor="middle" fill="#231f20" textLength="37" lengthAdjust="spacingAndGlyphs" stroke="#231f20" stroke-width="0.16">or histology</text>
<text x="404.00" y="420.40" font-size="11.2" text-anchor="start" fill="#000" font-weight="bold">G</text>
<defs><linearGradient id="gbg" x1="0" y1="0" x2="0" y2="1"><stop offset="0" stop-color="#e9ece9"/><stop offset="0.5" stop-color="#f2f3f2"/><stop offset="1" stop-color="#f6f6f6"/></linearGradient>
<linearGradient id="rod" x1="0" y1="0" x2="0" y2="1"><stop offset="0" stop-color="#0e6444"/><stop offset="0.3" stop-color="#17855c"/><stop offset="0.6" stop-color="#0a4a30"/><stop offset="1" stop-color="#041a10"/></linearGradient>
<linearGradient id="tb0" x1="0" y1="0" x2="0" y2="1"><stop offset="0" stop-color="#e4e8e2"/><stop offset="0.2" stop-color="#e6e8df"/><stop offset="0.3" stop-color="#f1e7d3"/><stop offset="1" stop-color="#ecd6c0"/></linearGradient>
<linearGradient id="tb1" x1="0" y1="0" x2="0" y2="1"><stop offset="0" stop-color="#e4e8e2"/><stop offset="0.2" stop-color="#e6e8df"/><stop offset="0.3" stop-color="#f1ebd6"/><stop offset="1" stop-color="#ede0c6"/></linearGradient>
<linearGradient id="tb2" x1="0" y1="0" x2="0" y2="1"><stop offset="0" stop-color="#e4e8e2"/><stop offset="0.2" stop-color="#e6e8df"/><stop offset="0.3" stop-color="#f1e5cf"/><stop offset="1" stop-color="#edd5bb"/></linearGradient>
<linearGradient id="tb3" x1="0" y1="0" x2="0" y2="1"><stop offset="0" stop-color="#e4e8e2"/><stop offset="0.2" stop-color="#e6e8df"/><stop offset="0.3" stop-color="#efd8c0"/><stop offset="1" stop-color="#e8bb9c"/></linearGradient>
<linearGradient id="teal" x1="0" y1="0" x2="0" y2="1"><stop offset="0" stop-color="#3a9a98"/><stop offset="0.6" stop-color="#5cb0ac"/><stop offset="1" stop-color="#a8d4cc" stop-opacity="0.6"/></linearGradient>
</defs>
<rect x="413.2" y="424.6" width="99.4" height="63.6" fill="url(#gbg)" stroke="#4a4a4a" stroke-width="0.9"/>
<rect x="417.5" y="441.5" width="94.6" height="8.6" fill="url(#rod)"/>
<path d="M421.09999999999997,437 L436.3,437 L435.7,471.8 C435.3,478.3 432.2,480.8 428.7,480.8 C425.2,480.8 422.09999999999997,478.3 421.7,471.8 Z" fill="url(#tb0)"/>
<path d="M418.2,432 C418.2,429.5 423.7,429 428.7,429.2 C433.7,429 439.7,429.2 439.7,431.5 C439.7,434 437.2,435.5 436.3,438.5 L421.09999999999997,438.5 C420.2,435.5 418.2,434.5 418.2,432 Z" fill="#dfe5e0" stroke="#c2cac4" stroke-width="0.5"/>
<path d="M422.7,431 q3,-1.5 6,0 q3,1.5 6,-0.5" stroke="#fafbfa" stroke-width="1.1" fill="none"/>
<rect x="421.2" y="440" width="15" height="5.8" fill="url(#teal)"/>
<path d="M425.2,466.8 q2,-1 4,1" stroke="#ffffff" stroke-width="1" fill="none" opacity="0.8"/>
<path d="M443.2,437 L458.40000000000003,437 L457.8,472.8 C457.40000000000003,479.3 454.3,481.8 450.8,481.8 C447.3,481.8 444.2,479.3 443.8,472.8 Z" fill="url(#tb1)"/>
<path d="M440.3,432 C440.3,429.5 445.8,429 450.8,429.2 C455.8,429 461.8,429.2 461.8,431.5 C461.8,434 459.3,435.5 458.40000000000003,438.5 L443.2,438.5 C442.3,435.5 440.3,434.5 440.3,432 Z" fill="#dfe5e0" stroke="#c2cac4" stroke-width="0.5"/>
<path d="M444.8,431 q3,-1.5 6,0 q3,1.5 6,-0.5" stroke="#fafbfa" stroke-width="1.1" fill="none"/>
<rect x="443.3" y="440" width="15" height="5.8" fill="url(#teal)"/>
<path d="M447.3,467.8 q2,-1 4,1" stroke="#ffffff" stroke-width="1" fill="none" opacity="0.8"/>
<path d="M464.79999999999995,437 L480.0,437 L479.4,473.5 C479.0,480.0 475.9,482.5 472.4,482.5 C468.9,482.5 465.79999999999995,480.0 465.4,473.5 Z" fill="url(#tb2)"/>
<path d="M461.9,432 C461.9,429.5 467.4,429 472.4,429.2 C477.4,429 483.4,429.2 483.4,431.5 C483.4,434 480.9,435.5 480.0,438.5 L464.79999999999995,438.5 C463.9,435.5 461.9,434.5 461.9,432 Z" fill="#dfe5e0" stroke="#c2cac4" stroke-width="0.5"/>
<path d="M466.4,431 q3,-1.5 6,0 q3,1.5 6,-0.5" stroke="#fafbfa" stroke-width="1.1" fill="none"/>
<rect x="464.9" y="440" width="15" height="5.8" fill="url(#teal)"/>
<path d="M468.9,468.5 q2,-1 4,1" stroke="#ffffff" stroke-width="1" fill="none" opacity="0.8"/>
<path d="M486.4,437 L501.6,437 L501.0,475.5 C500.6,482.0 497.5,484.5 494.0,484.5 C490.5,484.5 487.4,482.0 487.0,475.5 Z" fill="url(#tb3)"/>
<path d="M483.5,432 C483.5,429.5 489.0,429 494.0,429.2 C499.0,429 505.0,429.2 505.0,431.5 C505.0,434 502.5,435.5 501.6,438.5 L486.4,438.5 C485.5,435.5 483.5,434.5 483.5,432 Z" fill="#dfe5e0" stroke="#c2cac4" stroke-width="0.5"/>
<path d="M488.0,431 q3,-1.5 6,0 q3,1.5 6,-0.5" stroke="#fafbfa" stroke-width="1.1" fill="none"/>
<rect x="486.5" y="440" width="15" height="5.8" fill="url(#teal)"/>
<path d="M490.5,470.5 q2,-1 4,1" stroke="#ffffff" stroke-width="1" fill="none" opacity="0.8"/>
<text x="417.80" y="497.80" font-size="7.8" text-anchor="end" fill="#231f20" textLength="16" lengthAdjust="spacingAndGlyphs" stroke="#231f20" stroke-width="0.16">JAQ1</text>
<text x="417.80" y="507.80" font-size="7.8" text-anchor="end" fill="#231f20" textLength="29" lengthAdjust="spacingAndGlyphs" stroke="#231f20" stroke-width="0.16">Tirofiban</text>
<path d="M426.4,495.0 h4.6" stroke="#231f20" stroke-width="0.9"/>
<path d="M426.4,505.0 h4.6" stroke="#231f20" stroke-width="0.9"/>
<path d="M448.5,495.0 h4.6 M450.8,492.7 v4.6" stroke="#231f20" stroke-width="0.9"/>
<path d="M448.5,505.0 h4.6" stroke="#231f20" stroke-width="0.9"/>
<path d="M470.09999999999997,495.0 h4.6" stroke="#231f20" stroke-width="0.9"/>
<path d="M470.09999999999997,505.0 h4.6 M472.4,502.7 v4.6" stroke="#231f20" stroke-width="0.9"/>
<path d="M491.7,495.0 h4.6 M494.0,492.7 v4.6" stroke="#231f20" stroke-width="0.9"/>
<path d="M491.7,505.0 h4.6 M494.0,502.7 v4.6" stroke="#231f20" stroke-width="0.9"/>
<text x="7.40" y="526.20" font-size="11.2" text-anchor="start" fill="#000" font-weight="bold">H</text>
<rect x="49.25" y="587.67" width="6.5" height="27.83" fill="#7497bd"/>
<rect x="61.75" y="599.77" width="6.5" height="15.73" fill="#8fdc98"/>
<rect x="74.50" y="581.62" width="6.5" height="33.88" fill="#e27b8c"/>
<rect x="86.75" y="569.52" width="6.5" height="45.98" fill="#c3c2ec"/>
<line x1="52.50" y1="593.12" x2="52.50" y2="583.43" stroke="#3a3a3a" stroke-width="0.8"/>
<line x1="50.90" y1="583.43" x2="54.10" y2="583.43" stroke="#3a3a3a" stroke-width="0.8"/>
<line x1="50.90" y1="593.12" x2="54.10" y2="593.12" stroke="#3a3a3a" stroke-width="0.8"/>
<circle cx="54.30" cy="584.04" r="1.45" fill="#0f4c8c"/>
<circle cx="50.70" cy="585.86" r="1.45" fill="#0f4c8c"/>
<circle cx="52.50" cy="588.88" r="1.45" fill="#0f4c8c"/>
<circle cx="50.70" cy="592.51" r="1.45" fill="#0f4c8c"/>
<circle cx="54.30" cy="591.90" r="1.45" fill="#0f4c8c"/>
<line x1="65.00" y1="607.03" x2="65.00" y2="593.72" stroke="#3a3a3a" stroke-width="0.8"/>
<line x1="63.40" y1="593.72" x2="66.60" y2="593.72" stroke="#3a3a3a" stroke-width="0.8"/>
<line x1="63.40" y1="607.03" x2="66.60" y2="607.03" stroke="#3a3a3a" stroke-width="0.8"/>
<circle cx="65.00" cy="593.72" r="1.45" fill="#1fb43c"/>
<circle cx="63.20" cy="597.35" r="1.45" fill="#1fb43c"/>
<circle cx="66.80" cy="600.98" r="1.45" fill="#1fb43c"/>
<circle cx="65.00" cy="603.40" r="1.45" fill="#1fb43c"/>
<circle cx="65.00" cy="607.03" r="1.45" fill="#1fb43c"/>
<line x1="77.75" y1="593.12" x2="77.75" y2="570.12" stroke="#3a3a3a" stroke-width="0.8"/>
<line x1="76.15" y1="570.12" x2="79.35" y2="570.12" stroke="#3a3a3a" stroke-width="0.8"/>
<line x1="76.15" y1="593.12" x2="79.35" y2="593.12" stroke="#3a3a3a" stroke-width="0.8"/>
<circle cx="75.95" cy="570.12" r="1.45" fill="#cf1030"/>
<circle cx="79.55" cy="570.73" r="1.45" fill="#cf1030"/>
<circle cx="77.75" cy="590.09" r="1.45" fill="#cf1030"/>
<circle cx="77.75" cy="593.12" r="1.45" fill="#cf1030"/>
<line x1="90.00" y1="571.94" x2="90.00" y2="566.50" stroke="#3a3a3a" stroke-width="0.8"/>
<line x1="88.40" y1="566.50" x2="91.60" y2="566.50" stroke="#3a3a3a" stroke-width="0.8"/>
<line x1="88.40" y1="571.94" x2="91.60" y2="571.94" stroke="#3a3a3a" stroke-width="0.8"/>
<circle cx="88.20" cy="567.10" r="1.45" fill="#7b70cf"/>
<circle cx="91.80" cy="567.10" r="1.45" fill="#7b70cf"/>
<circle cx="88.20" cy="570.73" r="1.45" fill="#7b70cf"/>
<circle cx="91.80" cy="570.73" r="1.45" fill="#7b70cf"/>
<line x1="45.75" y1="552.00" x2="45.75" y2="616.10" stroke="#231f20" stroke-width="1.2"/>
<line x1="45.15" y1="615.50" x2="97.00" y2="615.50" stroke="#231f20" stroke-width="1.2"/>
<line x1="42.15" y1="615.50" x2="45.75" y2="615.50" stroke="#231f20" stroke-width="0.9"/>
<text x="39.55" y="618.20" font-size="8.5" text-anchor="end" fill="#231f20" stroke="#231f20" stroke-width="0.16">0</text>
<line x1="42.15" y1="603.40" x2="45.75" y2="603.40" stroke="#231f20" stroke-width="0.9"/>
<text x="39.55" y="606.10" font-size="8.5" text-anchor="end" fill="#231f20" stroke="#231f20" stroke-width="0.16">1</text>
<line x1="42.15" y1="591.30" x2="45.75" y2="591.30" stroke="#231f20" stroke-width="0.9"/>
<text x="39.55" y="594.00" font-size="8.5" text-anchor="end" fill="#231f20" stroke="#231f20" stroke-width="0.16">2</text>
<line x1="42.15" y1="579.20" x2="45.75" y2="579.20" stroke="#231f20" stroke-width="0.9"/>
<text x="39.55" y="581.90" font-size="8.5" text-anchor="end" fill="#231f20" stroke="#231f20" stroke-width="0.16">3</text>
<line x1="42.15" y1="567.10" x2="45.75" y2="567.10" stroke="#231f20" stroke-width="0.9"/>
<text x="39.55" y="569.80" font-size="8.5" text-anchor="end" fill="#231f20" stroke="#231f20" stroke-width="0.16">4</text>
<line x1="42.15" y1="555.00" x2="45.75" y2="555.00" stroke="#231f20" stroke-width="0.9"/>
<text x="39.55" y="557.70" font-size="8.5" text-anchor="end" fill="#231f20" stroke="#231f20" stroke-width="0.16">5</text>
<line x1="52.50" y1="615.50" x2="52.50" y2="617.70" stroke="#231f20" stroke-width="0.8"/>
<line x1="65.00" y1="615.50" x2="65.00" y2="617.70" stroke="#231f20" stroke-width="0.8"/>
<line x1="77.75" y1="615.50" x2="77.75" y2="617.70" stroke="#231f20" stroke-width="0.8"/>
<line x1="90.00" y1="615.50" x2="90.00" y2="617.70" stroke="#231f20" stroke-width="0.8"/>
<path d="M52.50,566.00 V559.50 H65.00 V577.00" fill="none" stroke="#555" stroke-width="0.85"/>
<text x="58.75" y="557.50" font-size="7.6" text-anchor="middle" fill="#231f20" stroke="#231f20" stroke-width="0.16">ns</text>
<path d="M52.50,553.00 V546.50 H77.75 V565.50" fill="none" stroke="#555" stroke-width="0.85"/>
<text x="65.12" y="544.50" font-size="7.6" text-anchor="middle" fill="#231f20" stroke="#231f20" stroke-width="0.16">ns</text>
<path d="M52.50,540.25 V533.75 H90.00 V565.00" fill="none" stroke="#555" stroke-width="0.85"/>
<text x="71.25" y="534.65" font-size="8.5" text-anchor="middle" fill="#231f20" stroke="#231f20" stroke-width="0.16">*</text>
<text transform="translate(52.70,625.00) rotate(-45)" x="0" y="0" font-size="8.2" text-anchor="end" fill="#231f20" stroke="#231f20" stroke-width="0.16">IgG2a + vehicle</text>
<text transform="translate(65.20,625.00) rotate(-45)" x="0" y="0" font-size="8.2" text-anchor="end" fill="#231f20" stroke="#231f20" stroke-width="0.16">JAQ1 + vehicle</text>
<text transform="translate(78.25,625.00) rotate(-45)" x="0" y="0" font-size="8.2" text-anchor="end" fill="#231f20" stroke="#231f20" stroke-width="0.16">IgG2a + tirofiban</text>
<text transform="translate(93.60,625.00) rotate(-45)" x="0" y="0" font-size="8.2" text-anchor="end" fill="#231f20" stroke="#231f20" stroke-width="0.16">JAQ1 + tirofiban</text>
<text transform="translate(28.10,583.80) rotate(-90) scale(0.7916,1)" x="0" y="0" font-size="9.3" text-anchor="middle" fill="#231f20" stroke="#231f20" stroke-width="0.16">RBC in BAL (10<tspan font-size="6.05" dy="-3.53">3</tspan><tspan dy="3.53">/µl)</tspan></text>
<rect x="164.45" y="591.80" width="6.6" height="23.70" fill="#7497bd"/>
<rect x="177.10" y="597.73" width="6.6" height="17.77" fill="#8fdc98"/>
<rect x="189.60" y="582.72" width="6.6" height="32.78" fill="#e27b8c"/>
<rect x="202.10" y="572.84" width="6.6" height="42.66" fill="#c3c2ec"/>
<line x1="167.75" y1="593.77" x2="167.75" y2="590.62" stroke="#3a3a3a" stroke-width="0.8"/>
<line x1="166.15" y1="590.62" x2="169.35" y2="590.62" stroke="#3a3a3a" stroke-width="0.8"/>
<line x1="166.15" y1="593.77" x2="169.35" y2="593.77" stroke="#3a3a3a" stroke-width="0.8"/>
<circle cx="165.75" cy="591.01" r="1.45" fill="#0f4c8c"/>
<circle cx="167.75" cy="591.80" r="1.45" fill="#0f4c8c"/>
<circle cx="169.75" cy="592.59" r="1.45" fill="#0f4c8c"/>
<circle cx="168.75" cy="593.38" r="1.45" fill="#0f4c8c"/>
<line x1="180.40" y1="601.67" x2="180.40" y2="591.01" stroke="#3a3a3a" stroke-width="0.8"/>
<line x1="178.80" y1="591.01" x2="182.00" y2="591.01" stroke="#3a3a3a" stroke-width="0.8"/>
<line x1="178.80" y1="601.67" x2="182.00" y2="601.67" stroke="#3a3a3a" stroke-width="0.8"/>
<circle cx="180.40" cy="591.01" r="1.45" fill="#1fb43c"/>
<circle cx="178.60" cy="595.75" r="1.45" fill="#1fb43c"/>
<circle cx="182.20" cy="599.70" r="1.45" fill="#1fb43c"/>
<circle cx="180.40" cy="600.49" r="1.45" fill="#1fb43c"/>
<line x1="192.90" y1="591.80" x2="192.90" y2="572.05" stroke="#3a3a3a" stroke-width="0.8"/>
<line x1="191.30" y1="572.05" x2="194.50" y2="572.05" stroke="#3a3a3a" stroke-width="0.8"/>
<line x1="191.30" y1="591.80" x2="194.50" y2="591.80" stroke="#3a3a3a" stroke-width="0.8"/>
<circle cx="192.90" cy="571.26" r="1.45" fill="#cf1030"/>
<circle cx="192.90" cy="576.79" r="1.45" fill="#cf1030"/>
<circle cx="191.10" cy="583.90" r="1.45" fill="#cf1030"/>
<circle cx="194.70" cy="587.06" r="1.45" fill="#cf1030"/>
<circle cx="192.90" cy="591.80" r="1.45" fill="#cf1030"/>
<line x1="205.40" y1="576.79" x2="205.40" y2="566.52" stroke="#3a3a3a" stroke-width="0.8"/>
<line x1="203.80" y1="566.52" x2="207.00" y2="566.52" stroke="#3a3a3a" stroke-width="0.8"/>
<line x1="203.80" y1="576.79" x2="207.00" y2="576.79" stroke="#3a3a3a" stroke-width="0.8"/>
<circle cx="207.20" cy="566.52" r="1.45" fill="#7b70cf"/>
<circle cx="203.60" cy="568.10" r="1.45" fill="#7b70cf"/>
<circle cx="205.40" cy="576.00" r="1.45" fill="#7b70cf"/>
<circle cx="207.20" cy="576.00" r="1.45" fill="#7b70cf"/>
<line x1="160.75" y1="552.00" x2="160.75" y2="616.10" stroke="#231f20" stroke-width="1.2"/>
<line x1="160.15" y1="615.50" x2="212.00" y2="615.50" stroke="#231f20" stroke-width="1.2"/>
<line x1="157.15" y1="615.50" x2="160.75" y2="615.50" stroke="#231f20" stroke-width="0.9"/>
<text x="154.55" y="618.20" font-size="8.5" text-anchor="end" fill="#231f20" stroke="#231f20" stroke-width="0.16">0.00</text>
<line x1="157.15" y1="595.75" x2="160.75" y2="595.75" stroke="#231f20" stroke-width="0.9"/>
<text x="154.55" y="598.45" font-size="8.5" text-anchor="end" fill="#231f20" stroke="#231f20" stroke-width="0.16">0.05</text>
<line x1="157.15" y1="576.00" x2="160.75" y2="576.00" stroke="#231f20" stroke-width="0.9"/>
<text x="154.55" y="578.70" font-size="8.5" text-anchor="end" fill="#231f20" stroke="#231f20" stroke-width="0.16">0.10</text>
<line x1="157.15" y1="556.25" x2="160.75" y2="556.25" stroke="#231f20" stroke-width="0.9"/>
<text x="154.55" y="558.95" font-size="8.5" text-anchor="end" fill="#231f20" stroke="#231f20" stroke-width="0.16">0.15</text>
<line x1="167.75" y1="615.50" x2="167.75" y2="617.70" stroke="#231f20" stroke-width="0.8"/>
<line x1="180.40" y1="615.50" x2="180.40" y2="617.70" stroke="#231f20" stroke-width="0.8"/>
<line x1="192.90" y1="615.50" x2="192.90" y2="617.70" stroke="#231f20" stroke-width="0.8"/>
<line x1="205.40" y1="615.50" x2="205.40" y2="617.70" stroke="#231f20" stroke-width="0.8"/>
<path d="M167.75,566.00 V559.50 H180.40 V580.00" fill="none" stroke="#555" stroke-width="0.85"/>
<text x="174.07" y="557.50" font-size="7.6" text-anchor="middle" fill="#231f20" stroke="#231f20" stroke-width="0.16">ns</text>
<path d="M167.75,553.00 V546.50 H192.90 V568.00" fill="none" stroke="#555" stroke-width="0.85"/>
<text x="180.32" y="544.50" font-size="7.6" text-anchor="middle" fill="#231f20" stroke="#231f20" stroke-width="0.16">ns</text>
<path d="M167.75,539.75 V533.25 H205.40 V563.00" fill="none" stroke="#555" stroke-width="0.85"/>
<text x="186.57" y="534.15" font-size="8.5" text-anchor="middle" fill="#231f20" stroke="#231f20" stroke-width="0.16">**</text>
<text transform="translate(167.95,625.00) rotate(-45)" x="0" y="0" font-size="8.2" text-anchor="end" fill="#231f20" stroke="#231f20" stroke-width="0.16">IgG2a + vehicle</text>
<text transform="translate(180.60,625.00) rotate(-45)" x="0" y="0" font-size="8.2" text-anchor="end" fill="#231f20" stroke="#231f20" stroke-width="0.16">JAQ1 + vehicle</text>
<text transform="translate(193.10,625.00) rotate(-45)" x="0" y="0" font-size="8.2" text-anchor="end" fill="#231f20" stroke="#231f20" stroke-width="0.16">IgG2a + tirofiban</text>
<text transform="translate(207.30,625.00) rotate(-45)" x="0" y="0" font-size="8.2" text-anchor="end" fill="#231f20" stroke="#231f20" stroke-width="0.16">JAQ1 + tirofiban</text>
<text transform="translate(124.00,581.30) rotate(-90)" x="0" y="0" font-size="9.2" text-anchor="middle" fill="#231f20" textLength="46" lengthAdjust="spacingAndGlyphs" stroke="#231f20" stroke-width="0.16">Hb absorption</text>
<text transform="translate(135.20,581.30) rotate(-90)" x="0" y="0" font-size="9.2" text-anchor="middle" fill="#231f20" textLength="48" lengthAdjust="spacingAndGlyphs" stroke="#231f20" stroke-width="0.16">(405 nm, a.u.)</text>
<rect x="273.85" y="597.64" width="6.3" height="17.36" fill="#7497bd"/>
<rect x="286.45" y="591.44" width="6.3" height="23.56" fill="#8fdc98"/>
<rect x="299.45" y="593.92" width="6.3" height="21.08" fill="#e27b8c"/>
<rect x="312.45" y="592.06" width="6.3" height="22.94" fill="#c3c2ec"/>
<line x1="277.00" y1="602.60" x2="277.00" y2="592.68" stroke="#3a3a3a" stroke-width="0.8"/>
<line x1="275.40" y1="592.68" x2="278.60" y2="592.68" stroke="#3a3a3a" stroke-width="0.8"/>
<line x1="275.40" y1="602.60" x2="278.60" y2="602.60" stroke="#3a3a3a" stroke-width="0.8"/>
<circle cx="277.00" cy="588.34" r="1.45" fill="#0f4c8c"/>
<circle cx="275.20" cy="597.64" r="1.45" fill="#0f4c8c"/>
<circle cx="278.80" cy="598.26" r="1.45" fill="#0f4c8c"/>
<circle cx="277.00" cy="599.50" r="1.45" fill="#0f4c8c"/>
<line x1="289.60" y1="602.60" x2="289.60" y2="580.28" stroke="#3a3a3a" stroke-width="0.8"/>
<line x1="288.00" y1="580.28" x2="291.20" y2="580.28" stroke="#3a3a3a" stroke-width="0.8"/>
<line x1="288.00" y1="602.60" x2="291.20" y2="602.60" stroke="#3a3a3a" stroke-width="0.8"/>
<circle cx="287.80" cy="580.28" r="1.45" fill="#1fb43c"/>
<circle cx="291.40" cy="580.28" r="1.45" fill="#1fb43c"/>
<circle cx="289.60" cy="599.50" r="1.45" fill="#1fb43c"/>
<circle cx="291.40" cy="600.12" r="1.45" fill="#1fb43c"/>
<line x1="302.60" y1="595.78" x2="302.60" y2="591.44" stroke="#3a3a3a" stroke-width="0.8"/>
<line x1="301.00" y1="591.44" x2="304.20" y2="591.44" stroke="#3a3a3a" stroke-width="0.8"/>
<line x1="301.00" y1="595.78" x2="304.20" y2="595.78" stroke="#3a3a3a" stroke-width="0.8"/>
<circle cx="302.60" cy="591.44" r="1.45" fill="#cf1030"/>
<circle cx="300.80" cy="593.92" r="1.45" fill="#cf1030"/>
<circle cx="304.40" cy="593.92" r="1.45" fill="#cf1030"/>
<line x1="315.60" y1="595.78" x2="315.60" y2="588.96" stroke="#3a3a3a" stroke-width="0.8"/>
<line x1="314.00" y1="588.96" x2="317.20" y2="588.96" stroke="#3a3a3a" stroke-width="0.8"/>
<line x1="314.00" y1="595.78" x2="317.20" y2="595.78" stroke="#3a3a3a" stroke-width="0.8"/>
<circle cx="317.40" cy="588.96" r="1.45" fill="#7b70cf"/>
<circle cx="313.80" cy="591.44" r="1.45" fill="#7b70cf"/>
<circle cx="315.60" cy="594.54" r="1.45" fill="#7b70cf"/>
<circle cx="317.40" cy="592.68" r="1.45" fill="#7b70cf"/>
<line x1="270.00" y1="550.00" x2="270.00" y2="615.60" stroke="#231f20" stroke-width="1.2"/>
<line x1="269.40" y1="615.00" x2="322.50" y2="615.00" stroke="#231f20" stroke-width="1.2"/>
<line x1="266.40" y1="615.00" x2="270.00" y2="615.00" stroke="#231f20" stroke-width="0.9"/>
<text x="263.80" y="617.70" font-size="8.5" text-anchor="end" fill="#231f20" stroke="#231f20" stroke-width="0.16">0.00</text>
<line x1="266.40" y1="599.50" x2="270.00" y2="599.50" stroke="#231f20" stroke-width="0.9"/>
<text x="263.80" y="602.20" font-size="8.5" text-anchor="end" fill="#231f20" stroke="#231f20" stroke-width="0.16">0.25</text>
<line x1="266.40" y1="584.00" x2="270.00" y2="584.00" stroke="#231f20" stroke-width="0.9"/>
<text x="263.80" y="586.70" font-size="8.5" text-anchor="end" fill="#231f20" stroke="#231f20" stroke-width="0.16">0.50</text>
<line x1="266.40" y1="568.50" x2="270.00" y2="568.50" stroke="#231f20" stroke-width="0.9"/>
<text x="263.80" y="571.20" font-size="8.5" text-anchor="end" fill="#231f20" stroke="#231f20" stroke-width="0.16">0.75</text>
<line x1="266.40" y1="553.00" x2="270.00" y2="553.00" stroke="#231f20" stroke-width="0.9"/>
<text x="263.80" y="555.70" font-size="8.5" text-anchor="end" fill="#231f20" stroke="#231f20" stroke-width="0.16">1.00</text>
<line x1="277.00" y1="615.00" x2="277.00" y2="617.20" stroke="#231f20" stroke-width="0.8"/>
<line x1="289.60" y1="615.00" x2="289.60" y2="617.20" stroke="#231f20" stroke-width="0.8"/>
<line x1="302.60" y1="615.00" x2="302.60" y2="617.20" stroke="#231f20" stroke-width="0.8"/>
<line x1="315.60" y1="615.00" x2="315.60" y2="617.20" stroke="#231f20" stroke-width="0.8"/>
<path d="M277.00,578.50 V572.00 H289.60 V580.00" fill="none" stroke="#555" stroke-width="0.85"/>
<text x="283.30" y="570.00" font-size="7.6" text-anchor="middle" fill="#231f20" stroke="#231f20" stroke-width="0.16">ns</text>
<path d="M277.00,564.75 V558.25 H302.60 V588.00" fill="none" stroke="#555" stroke-width="0.85"/>
<text x="289.80" y="556.25" font-size="7.6" text-anchor="middle" fill="#231f20" stroke="#231f20" stroke-width="0.16">ns</text>
<path d="M277.00,551.50 V545.00 H315.60 V585.00" fill="none" stroke="#555" stroke-width="0.85"/>
<text x="296.30" y="543.00" font-size="7.6" text-anchor="middle" fill="#231f20" stroke="#231f20" stroke-width="0.16">ns</text>
<text transform="translate(277.20,624.50) rotate(-45)" x="0" y="0" font-size="8.2" text-anchor="end" fill="#231f20" stroke="#231f20" stroke-width="0.16">IgG2a + vehicle</text>
<text transform="translate(289.80,624.50) rotate(-45)" x="0" y="0" font-size="8.2" text-anchor="end" fill="#231f20" stroke="#231f20" stroke-width="0.16">JAQ1 + vehicle</text>
<text transform="translate(303.40,624.50) rotate(-45)" x="0" y="0" font-size="8.2" text-anchor="end" fill="#231f20" stroke="#231f20" stroke-width="0.16">IgG2a + tirofiban</text>
<text transform="translate(317.00,624.50) rotate(-45)" x="0" y="0" font-size="8.2" text-anchor="end" fill="#231f20" stroke="#231f20" stroke-width="0.16">JAQ1 + tirofiban</text>
<text transform="translate(241.50,583.80) rotate(-90) scale(0.7818,1)" x="0" y="0" font-size="9.3" text-anchor="middle" fill="#231f20" stroke="#231f20" stroke-width="0.16">PMN in BAL (10<tspan font-size="6.05" dy="-3.53">3</tspan><tspan dy="3.53">/µl)</tspan></text>
<rect x="380.70" y="577.94" width="6.6" height="37.26" fill="#7497bd"/>
<rect x="393.20" y="573.90" width="6.6" height="41.30" fill="#8fdc98"/>
<rect x="406.20" y="572.35" width="6.6" height="42.85" fill="#e27b8c"/>
<rect x="419.10" y="574.84" width="6.6" height="40.37" fill="#c3c2ec"/>
<line x1="384.00" y1="585.70" x2="384.00" y2="571.11" stroke="#3a3a3a" stroke-width="0.8"/>
<line x1="382.40" y1="571.11" x2="385.60" y2="571.11" stroke="#3a3a3a" stroke-width="0.8"/>
<line x1="382.40" y1="585.70" x2="385.60" y2="585.70" stroke="#3a3a3a" stroke-width="0.8"/>
<circle cx="382.20" cy="572.35" r="1.45" fill="#0f4c8c"/>
<circle cx="385.80" cy="571.11" r="1.45" fill="#0f4c8c"/>
<circle cx="384.00" cy="581.05" r="1.45" fill="#0f4c8c"/>
<circle cx="384.00" cy="585.70" r="1.45" fill="#0f4c8c"/>
<line x1="396.50" y1="575.46" x2="396.50" y2="572.35" stroke="#3a3a3a" stroke-width="0.8"/>
<line x1="394.90" y1="572.35" x2="398.10" y2="572.35" stroke="#3a3a3a" stroke-width="0.8"/>
<line x1="394.90" y1="575.46" x2="398.10" y2="575.46" stroke="#3a3a3a" stroke-width="0.8"/>
<circle cx="394.70" cy="573.90" r="1.45" fill="#1fb43c"/>
<circle cx="398.30" cy="574.21" r="1.45" fill="#1fb43c"/>
<circle cx="396.50" cy="573.28" r="1.45" fill="#1fb43c"/>
<line x1="409.50" y1="574.84" x2="409.50" y2="568.62" stroke="#3a3a3a" stroke-width="0.8"/>
<line x1="407.90" y1="568.62" x2="411.10" y2="568.62" stroke="#3a3a3a" stroke-width="0.8"/>
<line x1="407.90" y1="574.84" x2="411.10" y2="574.84" stroke="#3a3a3a" stroke-width="0.8"/>
<circle cx="411.30" cy="568.62" r="1.45" fill="#cf1030"/>
<circle cx="407.70" cy="571.73" r="1.45" fill="#cf1030"/>
<circle cx="409.50" cy="573.28" r="1.45" fill="#cf1030"/>
<circle cx="411.30" cy="574.21" r="1.45" fill="#cf1030"/>
<line x1="422.40" y1="579.49" x2="422.40" y2="571.73" stroke="#3a3a3a" stroke-width="0.8"/>
<line x1="420.80" y1="571.73" x2="424.00" y2="571.73" stroke="#3a3a3a" stroke-width="0.8"/>
<line x1="420.80" y1="579.49" x2="424.00" y2="579.49" stroke="#3a3a3a" stroke-width="0.8"/>
<circle cx="420.60" cy="571.73" r="1.45" fill="#7b70cf"/>
<circle cx="424.20" cy="571.73" r="1.45" fill="#7b70cf"/>
<circle cx="422.40" cy="577.94" r="1.45" fill="#7b70cf"/>
<line x1="376.70" y1="549.90" x2="376.70" y2="615.80" stroke="#231f20" stroke-width="1.2"/>
<line x1="376.10" y1="615.20" x2="429.30" y2="615.20" stroke="#231f20" stroke-width="1.2"/>
<line x1="373.10" y1="615.20" x2="376.70" y2="615.20" stroke="#231f20" stroke-width="0.9"/>
<text x="370.50" y="617.90" font-size="8.5" text-anchor="end" fill="#231f20" stroke="#231f20" stroke-width="0.16">0.0</text>
<line x1="373.10" y1="599.68" x2="376.70" y2="599.68" stroke="#231f20" stroke-width="0.9"/>
<text x="370.50" y="602.38" font-size="8.5" text-anchor="end" fill="#231f20" stroke="#231f20" stroke-width="0.16">0.5</text>
<line x1="373.10" y1="584.15" x2="376.70" y2="584.15" stroke="#231f20" stroke-width="0.9"/>
<text x="370.50" y="586.85" font-size="8.5" text-anchor="end" fill="#231f20" stroke="#231f20" stroke-width="0.16">1.0</text>
<line x1="373.10" y1="568.62" x2="376.70" y2="568.62" stroke="#231f20" stroke-width="0.9"/>
<text x="370.50" y="571.33" font-size="8.5" text-anchor="end" fill="#231f20" stroke="#231f20" stroke-width="0.16">1.5</text>
<line x1="373.10" y1="553.10" x2="376.70" y2="553.10" stroke="#231f20" stroke-width="0.9"/>
<text x="370.50" y="555.80" font-size="8.5" text-anchor="end" fill="#231f20" stroke="#231f20" stroke-width="0.16">2.0</text>
<line x1="384.00" y1="615.20" x2="384.00" y2="617.40" stroke="#231f20" stroke-width="0.8"/>
<line x1="396.50" y1="615.20" x2="396.50" y2="617.40" stroke="#231f20" stroke-width="0.8"/>
<line x1="409.50" y1="615.20" x2="409.50" y2="617.40" stroke="#231f20" stroke-width="0.8"/>
<line x1="422.40" y1="615.20" x2="422.40" y2="617.40" stroke="#231f20" stroke-width="0.8"/>
<path d="M384.00,568.40 V561.90 H396.50 V570.00" fill="none" stroke="#555" stroke-width="0.85"/>
<text x="390.25" y="559.90" font-size="7.6" text-anchor="middle" fill="#231f20" stroke="#231f20" stroke-width="0.16">ns</text>
<path d="M384.00,554.70 V548.20 H409.50 V568.00" fill="none" stroke="#555" stroke-width="0.85"/>
<text x="396.75" y="546.20" font-size="7.6" text-anchor="middle" fill="#231f20" stroke="#231f20" stroke-width="0.16">ns</text>
<path d="M384.00,541.50 V535.00 H422.40 V569.00" fill="none" stroke="#555" stroke-width="0.85"/>
<text x="403.20" y="533.00" font-size="7.6" text-anchor="middle" fill="#231f20" stroke="#231f20" stroke-width="0.16">ns</text>
<text transform="translate(385.30,624.70) rotate(-45)" x="0" y="0" font-size="8.2" text-anchor="end" fill="#231f20" stroke="#231f20" stroke-width="0.16">IgG2a + vehicle</text>
<text transform="translate(399.00,624.70) rotate(-45)" x="0" y="0" font-size="8.2" text-anchor="end" fill="#231f20" stroke="#231f20" stroke-width="0.16">JAQ1 + vehicle</text>
<text transform="translate(411.40,624.70) rotate(-45)" x="0" y="0" font-size="8.2" text-anchor="end" fill="#231f20" stroke="#231f20" stroke-width="0.16">IgG2a + tirofiban</text>
<text transform="translate(424.90,624.70) rotate(-45)" x="0" y="0" font-size="8.2" text-anchor="end" fill="#231f20" stroke="#231f20" stroke-width="0.16">JAQ1 + tirofiban</text>
<text transform="translate(354.00,583.60) rotate(-90) scale(0.7880,1)" x="0" y="0" font-size="9.2" text-anchor="middle" fill="#231f20" stroke="#231f20" stroke-width="0.16">PLT in BAL (10<tspan font-size="5.98" dy="-3.50">3</tspan><tspan dy="3.50">/µl)</tspan></text>
<text x="449.40" y="531.20" font-size="11.2" text-anchor="start" fill="#000" font-weight="bold">I</text>
<rect x="489.10" y="577.29" width="6.2" height="38.11" fill="#7497bd"/>
<rect x="502.30" y="595.83" width="6.2" height="19.57" fill="#c3c2ec"/>
<line x1="492.20" y1="586.56" x2="492.20" y2="565.96" stroke="#3a3a3a" stroke-width="0.8"/>
<line x1="490.60" y1="565.96" x2="493.80" y2="565.96" stroke="#3a3a3a" stroke-width="0.8"/>
<line x1="490.60" y1="586.56" x2="493.80" y2="586.56" stroke="#3a3a3a" stroke-width="0.8"/>
<circle cx="492.20" cy="561.84" r="1.45" fill="#0f4c8c"/>
<circle cx="490.40" cy="576.26" r="1.45" fill="#0f4c8c"/>
<circle cx="494.00" cy="578.32" r="1.45" fill="#0f4c8c"/>
<circle cx="492.20" cy="582.44" r="1.45" fill="#0f4c8c"/>
<circle cx="492.20" cy="585.53" r="1.45" fill="#0f4c8c"/>
<line x1="505.40" y1="597.89" x2="505.40" y2="592.74" stroke="#3a3a3a" stroke-width="0.8"/>
<line x1="503.80" y1="592.74" x2="507.00" y2="592.74" stroke="#3a3a3a" stroke-width="0.8"/>
<line x1="503.80" y1="597.89" x2="507.00" y2="597.89" stroke="#3a3a3a" stroke-width="0.8"/>
<circle cx="503.60" cy="592.74" r="1.45" fill="#7b70cf"/>
<circle cx="507.20" cy="593.77" r="1.45" fill="#7b70cf"/>
<circle cx="505.40" cy="595.83" r="1.45" fill="#7b70cf"/>
<circle cx="503.60" cy="596.86" r="1.45" fill="#7b70cf"/>
<circle cx="507.20" cy="597.38" r="1.45" fill="#7b70cf"/>
<line x1="484.40" y1="549.90" x2="484.40" y2="616.00" stroke="#231f20" stroke-width="1.2"/>
<line x1="483.80" y1="615.40" x2="512.30" y2="615.40" stroke="#231f20" stroke-width="1.2"/>
<line x1="480.80" y1="615.40" x2="484.40" y2="615.40" stroke="#231f20" stroke-width="0.9"/>
<text x="478.20" y="618.10" font-size="8.5" text-anchor="end" fill="#231f20" stroke="#231f20" stroke-width="0.16">0</text>
<line x1="480.80" y1="594.80" x2="484.40" y2="594.80" stroke="#231f20" stroke-width="0.9"/>
<text x="478.20" y="597.50" font-size="8.5" text-anchor="end" fill="#231f20" stroke="#231f20" stroke-width="0.16">20</text>
<line x1="480.80" y1="574.20" x2="484.40" y2="574.20" stroke="#231f20" stroke-width="0.9"/>
<text x="478.20" y="576.90" font-size="8.5" text-anchor="end" fill="#231f20" stroke="#231f20" stroke-width="0.16">40</text>
<line x1="480.80" y1="553.60" x2="484.40" y2="553.60" stroke="#231f20" stroke-width="0.9"/>
<text x="478.20" y="556.30" font-size="8.5" text-anchor="end" fill="#231f20" stroke="#231f20" stroke-width="0.16">60</text>
<line x1="492.20" y1="615.40" x2="492.20" y2="617.60" stroke="#231f20" stroke-width="0.8"/>
<line x1="505.40" y1="615.40" x2="505.40" y2="617.60" stroke="#231f20" stroke-width="0.8"/>
<path d="M492.20,556.40 V549.90 H505.40 V566.00" fill="none" stroke="#555" stroke-width="0.85"/>
<text x="498.80" y="550.80" font-size="8.5" text-anchor="middle" fill="#231f20" stroke="#231f20" stroke-width="0.16">*</text>
<text transform="translate(492.40,624.90) rotate(-45)" x="0" y="0" font-size="8.2" text-anchor="end" fill="#231f20" stroke="#231f20" stroke-width="0.16">IgG2a + vehicle</text>
<text transform="translate(507.60,624.90) rotate(-45)" x="0" y="0" font-size="8.2" text-anchor="end" fill="#231f20" stroke="#231f20" stroke-width="0.16">JAQ1 + tirofiban</text>
<text transform="translate(467.60,582.30) rotate(-90)" x="0" y="0" font-size="9.2" text-anchor="middle" fill="#231f20" textLength="51" lengthAdjust="spacingAndGlyphs" stroke="#231f20" stroke-width="0.16"># Proc. plt/bead</text>
<rect x="0.5" y="0.5" width="519" height="672" fill="none" stroke="#000" stroke-width="1.2"/>
</svg>
</body></html>
